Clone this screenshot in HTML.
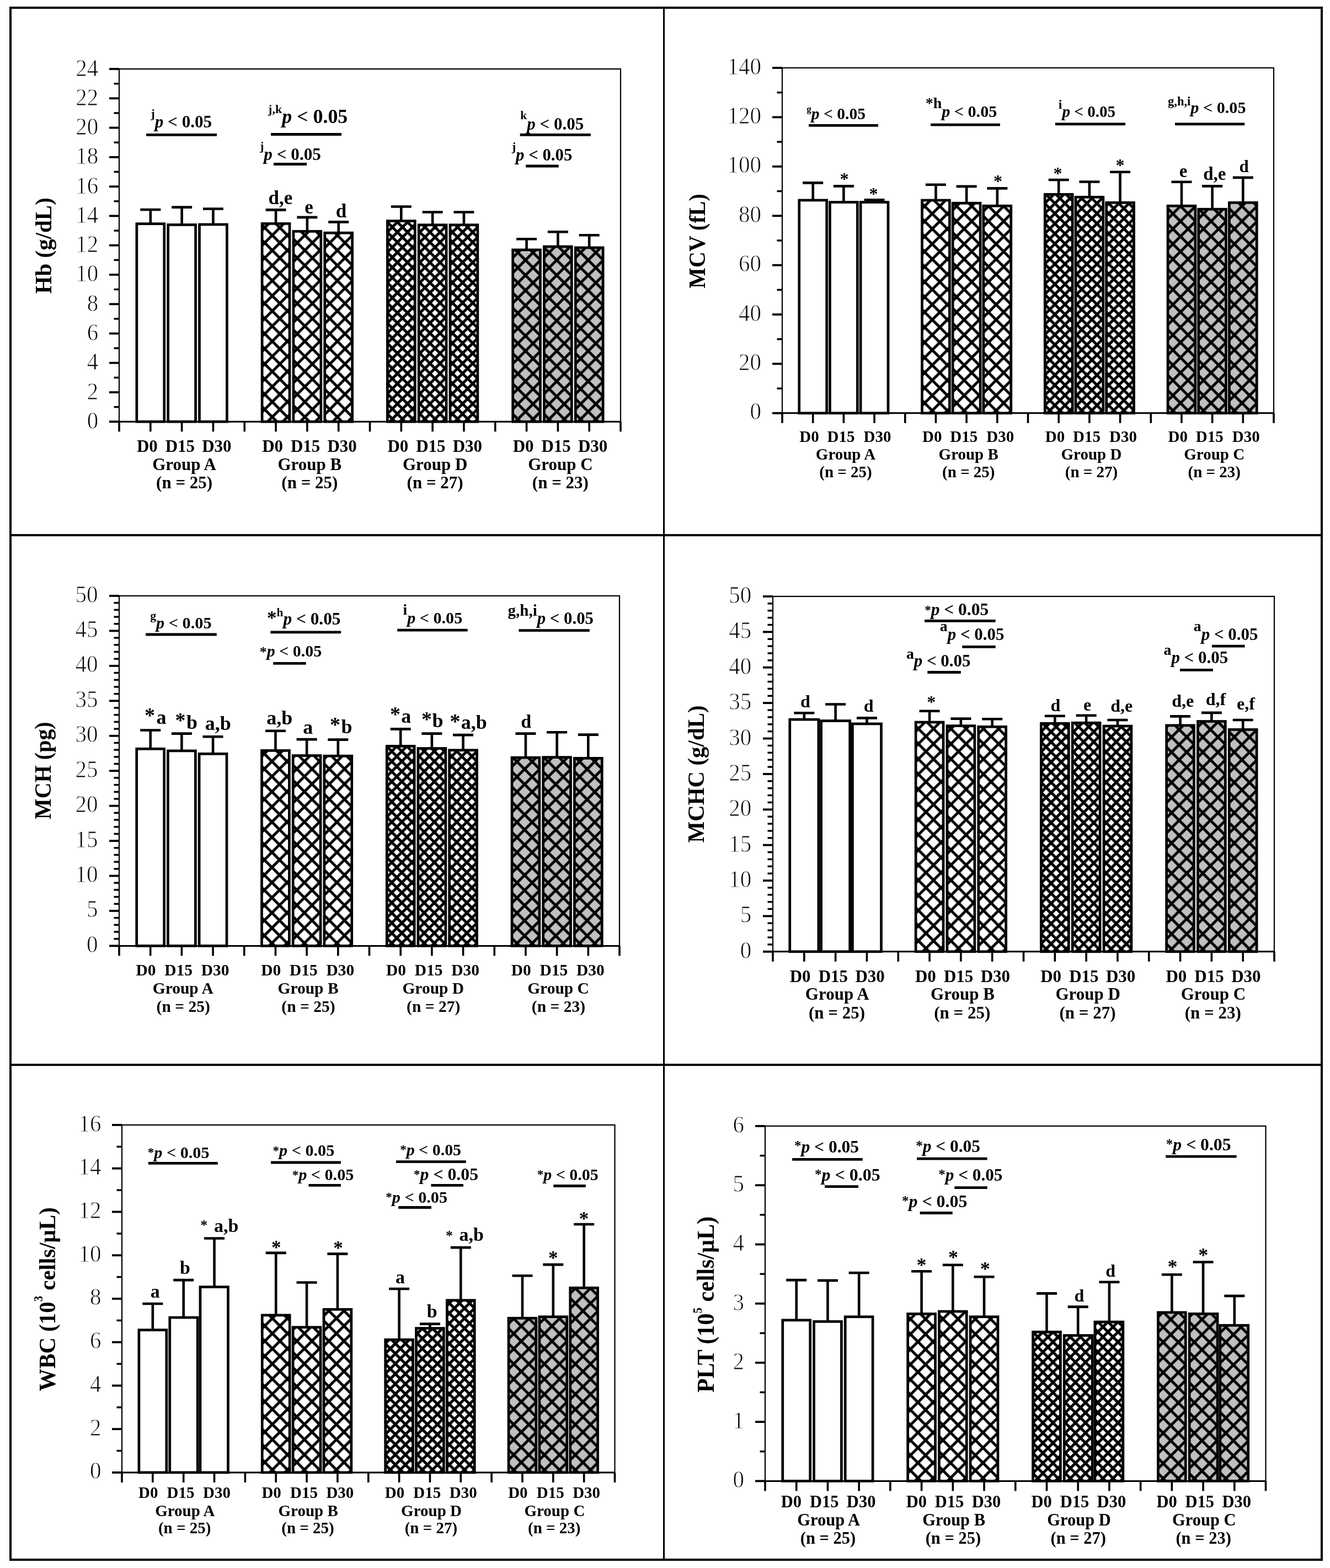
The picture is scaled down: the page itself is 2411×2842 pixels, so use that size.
<!DOCTYPE html><html><head><meta charset="utf-8"><title>Hematological parameters by group</title><style>html,body{margin:0;padding:0;background:#fff;}svg{display:block;}text{font-family:'Liberation Serif', 'Times New Roman', serif;fill:#000;}.tl{stroke:#fff;stroke-width:0.9px;}</style></head><body>
<svg width="2411" height="2842" viewBox="0 0 2411 2842">
<defs><pattern id="p0" patternUnits="userSpaceOnUse" x="493.56" y="755.8" width="27.45" height="27.45"><rect width="27.45" height="27.45" fill="#fff"/><path d="M-27.45,-27.45L54.9,54.9M0,-27.45L54.9,27.45M-27.45,0L27.45,54.9M-27.45,27.45L27.45,-27.45M-27.45,54.9L54.9,-27.45M0,54.9L54.9,0" stroke="#000" stroke-width="5.0"/></pattern><pattern id="p1" patternUnits="userSpaceOnUse" x="552.58" y="755.8" width="27.45" height="27.45"><rect width="27.45" height="27.45" fill="#fff"/><path d="M-27.45,-27.45L54.9,54.9M0,-27.45L54.9,27.45M-27.45,0L27.45,54.9M-27.45,27.45L27.45,-27.45M-27.45,54.9L54.9,-27.45M0,54.9L54.9,0" stroke="#000" stroke-width="5.0"/></pattern><pattern id="p2" patternUnits="userSpaceOnUse" x="611.59" y="755.8" width="27.45" height="27.45"><rect width="27.45" height="27.45" fill="#fff"/><path d="M-27.45,-27.45L54.9,54.9M0,-27.45L54.9,27.45M-27.45,0L27.45,54.9M-27.45,27.45L27.45,-27.45M-27.45,54.9L54.9,-27.45M0,54.9L54.9,0" stroke="#000" stroke-width="5.0"/></pattern><pattern id="p3" patternUnits="userSpaceOnUse" x="720.41" y="750.2" width="18.3" height="18.3"><rect width="18.3" height="18.3" fill="#fff"/><path d="M-18.3,-18.3L36.6,36.6M0,-18.3L36.6,18.3M-18.3,0L18.3,36.6M-18.3,18.3L18.3,-18.3M-18.3,36.6L36.6,-18.3M0,36.6L36.6,0" stroke="#000" stroke-width="5.0"/></pattern><pattern id="p4" patternUnits="userSpaceOnUse" x="779.42" y="750.2" width="18.3" height="18.3"><rect width="18.3" height="18.3" fill="#fff"/><path d="M-18.3,-18.3L36.6,36.6M0,-18.3L36.6,18.3M-18.3,0L18.3,36.6M-18.3,18.3L18.3,-18.3M-18.3,36.6L36.6,-18.3M0,36.6L36.6,0" stroke="#000" stroke-width="5.0"/></pattern><pattern id="p5" patternUnits="userSpaceOnUse" x="838.54" y="750.2" width="18.3" height="18.3"><rect width="18.3" height="18.3" fill="#fff"/><path d="M-18.3,-18.3L36.6,36.6M0,-18.3L36.6,18.3M-18.3,0L18.3,36.6M-18.3,18.3L18.3,-18.3M-18.3,36.6L36.6,-18.3M0,36.6L36.6,0" stroke="#000" stroke-width="5.0"/></pattern><pattern id="p6" patternUnits="userSpaceOnUse" x="952.56" y="746" width="27.45" height="27.45"><rect width="27.45" height="27.45" fill="#c0c0c0"/><path d="M-27.45,-27.45L54.9,54.9M0,-27.45L54.9,27.45M-27.45,0L27.45,54.9M-27.45,27.45L27.45,-27.45M-27.45,54.9L54.9,-27.45M0,54.9L54.9,0" stroke="#000" stroke-width="5.0"/></pattern><pattern id="p7" patternUnits="userSpaceOnUse" x="1009.17" y="746" width="27.45" height="27.45"><rect width="27.45" height="27.45" fill="#c0c0c0"/><path d="M-27.45,-27.45L54.9,54.9M0,-27.45L54.9,27.45M-27.45,0L27.45,54.9M-27.45,27.45L27.45,-27.45M-27.45,54.9L54.9,-27.45M0,54.9L54.9,0" stroke="#000" stroke-width="5.0"/></pattern><pattern id="p8" patternUnits="userSpaceOnUse" x="1066.29" y="746" width="27.45" height="27.45"><rect width="27.45" height="27.45" fill="#c0c0c0"/><path d="M-27.45,-27.45L54.9,54.9M0,-27.45L54.9,27.45M-27.45,0L27.45,54.9M-27.45,27.45L27.45,-27.45M-27.45,54.9L54.9,-27.45M0,54.9L54.9,0" stroke="#000" stroke-width="5.0"/></pattern><pattern id="p9" patternUnits="userSpaceOnUse" x="1689.94" y="744.2" width="27.45" height="27.45"><rect width="27.45" height="27.45" fill="#fff"/><path d="M-27.45,-27.45L54.9,54.9M0,-27.45L54.9,27.45M-27.45,0L27.45,54.9M-27.45,27.45L27.45,-27.45M-27.45,54.9L54.9,-27.45M0,54.9L54.9,0" stroke="#000" stroke-width="5.0"/></pattern><pattern id="p10" patternUnits="userSpaceOnUse" x="1747.83" y="744.2" width="27.45" height="27.45"><rect width="27.45" height="27.45" fill="#fff"/><path d="M-27.45,-27.45L54.9,54.9M0,-27.45L54.9,27.45M-27.45,0L27.45,54.9M-27.45,27.45L27.45,-27.45M-27.45,54.9L54.9,-27.45M0,54.9L54.9,0" stroke="#000" stroke-width="5.0"/></pattern><pattern id="p11" patternUnits="userSpaceOnUse" x="1805.71" y="744.2" width="27.45" height="27.45"><rect width="27.45" height="27.45" fill="#fff"/><path d="M-27.45,-27.45L54.9,54.9M0,-27.45L54.9,27.45M-27.45,0L27.45,54.9M-27.45,27.45L27.45,-27.45M-27.45,54.9L54.9,-27.45M0,54.9L54.9,0" stroke="#000" stroke-width="5.0"/></pattern><pattern id="p12" patternUnits="userSpaceOnUse" x="1912.29" y="734.7" width="18.3" height="18.3"><rect width="18.3" height="18.3" fill="#fff"/><path d="M-18.3,-18.3L36.6,36.6M0,-18.3L36.6,18.3M-18.3,0L18.3,36.6M-18.3,18.3L18.3,-18.3M-18.3,36.6L36.6,-18.3M0,36.6L36.6,0" stroke="#000" stroke-width="5.0"/></pattern><pattern id="p13" patternUnits="userSpaceOnUse" x="1970.17" y="734.7" width="18.3" height="18.3"><rect width="18.3" height="18.3" fill="#fff"/><path d="M-18.3,-18.3L36.6,36.6M0,-18.3L36.6,18.3M-18.3,0L18.3,36.6M-18.3,18.3L18.3,-18.3M-18.3,36.6L36.6,-18.3M0,36.6L36.6,0" stroke="#000" stroke-width="5.0"/></pattern><pattern id="p14" patternUnits="userSpaceOnUse" x="2028.16" y="734.7" width="18.3" height="18.3"><rect width="18.3" height="18.3" fill="#fff"/><path d="M-18.3,-18.3L36.6,36.6M0,-18.3L36.6,18.3M-18.3,0L18.3,36.6M-18.3,18.3L18.3,-18.3M-18.3,36.6L36.6,-18.3M0,36.6L36.6,0" stroke="#000" stroke-width="5.0"/></pattern><pattern id="p15" patternUnits="userSpaceOnUse" x="2139.94" y="730.5" width="27.45" height="27.45"><rect width="27.45" height="27.45" fill="#c0c0c0"/><path d="M-27.45,-27.45L54.9,54.9M0,-27.45L54.9,27.45M-27.45,0L27.45,54.9M-27.45,27.45L27.45,-27.45M-27.45,54.9L54.9,-27.45M0,54.9L54.9,0" stroke="#000" stroke-width="5.0"/></pattern><pattern id="p16" patternUnits="userSpaceOnUse" x="2195.43" y="730.5" width="27.45" height="27.45"><rect width="27.45" height="27.45" fill="#c0c0c0"/><path d="M-27.45,-27.45L54.9,54.9M0,-27.45L54.9,27.45M-27.45,0L27.45,54.9M-27.45,27.45L27.45,-27.45M-27.45,54.9L54.9,-27.45M0,54.9L54.9,0" stroke="#000" stroke-width="5.0"/></pattern><pattern id="p17" patternUnits="userSpaceOnUse" x="2251.41" y="730.5" width="27.45" height="27.45"><rect width="27.45" height="27.45" fill="#c0c0c0"/><path d="M-27.45,-27.45L54.9,54.9M0,-27.45L54.9,27.45M-27.45,0L27.45,54.9M-27.45,27.45L27.45,-27.45M-27.45,54.9L54.9,-27.45M0,54.9L54.9,0" stroke="#000" stroke-width="5.0"/></pattern><pattern id="p18" patternUnits="userSpaceOnUse" x="492.94" y="1709.4" width="27.45" height="27.45"><rect width="27.45" height="27.45" fill="#fff"/><path d="M-27.45,-27.45L54.9,54.9M0,-27.45L54.9,27.45M-27.45,0L27.45,54.9M-27.45,27.45L27.45,-27.45M-27.45,54.9L54.9,-27.45M0,54.9L54.9,0" stroke="#000" stroke-width="5.0"/></pattern><pattern id="p19" patternUnits="userSpaceOnUse" x="551.83" y="1709.4" width="27.45" height="27.45"><rect width="27.45" height="27.45" fill="#fff"/><path d="M-27.45,-27.45L54.9,54.9M0,-27.45L54.9,27.45M-27.45,0L27.45,54.9M-27.45,27.45L27.45,-27.45M-27.45,54.9L54.9,-27.45M0,54.9L54.9,0" stroke="#000" stroke-width="5.0"/></pattern><pattern id="p20" patternUnits="userSpaceOnUse" x="610.71" y="1709.4" width="27.45" height="27.45"><rect width="27.45" height="27.45" fill="#fff"/><path d="M-27.45,-27.45L54.9,54.9M0,-27.45L54.9,27.45M-27.45,0L27.45,54.9M-27.45,27.45L27.45,-27.45M-27.45,54.9L54.9,-27.45M0,54.9L54.9,0" stroke="#000" stroke-width="5.0"/></pattern><pattern id="p21" patternUnits="userSpaceOnUse" x="719.29" y="1700.3" width="18.3" height="18.3"><rect width="18.3" height="18.3" fill="#fff"/><path d="M-18.3,-18.3L36.6,36.6M0,-18.3L36.6,18.3M-18.3,0L18.3,36.6M-18.3,18.3L18.3,-18.3M-18.3,36.6L36.6,-18.3M0,36.6L36.6,0" stroke="#000" stroke-width="5.0"/></pattern><pattern id="p22" patternUnits="userSpaceOnUse" x="778.17" y="1700.3" width="18.3" height="18.3"><rect width="18.3" height="18.3" fill="#fff"/><path d="M-18.3,-18.3L36.6,36.6M0,-18.3L36.6,18.3M-18.3,0L18.3,36.6M-18.3,18.3L18.3,-18.3M-18.3,36.6L36.6,-18.3M0,36.6L36.6,0" stroke="#000" stroke-width="5.0"/></pattern><pattern id="p23" patternUnits="userSpaceOnUse" x="837.16" y="1700.3" width="18.3" height="18.3"><rect width="18.3" height="18.3" fill="#fff"/><path d="M-18.3,-18.3L36.6,36.6M0,-18.3L36.6,18.3M-18.3,0L18.3,36.6M-18.3,18.3L18.3,-18.3M-18.3,36.6L36.6,-18.3M0,36.6L36.6,0" stroke="#000" stroke-width="5.0"/></pattern><pattern id="p24" patternUnits="userSpaceOnUse" x="950.94" y="1696.1" width="27.45" height="27.45"><rect width="27.45" height="27.45" fill="#c0c0c0"/><path d="M-27.45,-27.45L54.9,54.9M0,-27.45L54.9,27.45M-27.45,0L27.45,54.9M-27.45,27.45L27.45,-27.45M-27.45,54.9L54.9,-27.45M0,54.9L54.9,0" stroke="#000" stroke-width="5.0"/></pattern><pattern id="p25" patternUnits="userSpaceOnUse" x="1007.42" y="1696.1" width="27.45" height="27.45"><rect width="27.45" height="27.45" fill="#c0c0c0"/><path d="M-27.45,-27.45L54.9,54.9M0,-27.45L54.9,27.45M-27.45,0L27.45,54.9M-27.45,27.45L27.45,-27.45M-27.45,54.9L54.9,-27.45M0,54.9L54.9,0" stroke="#000" stroke-width="5.0"/></pattern><pattern id="p26" patternUnits="userSpaceOnUse" x="1064.41" y="1696.1" width="27.45" height="27.45"><rect width="27.45" height="27.45" fill="#c0c0c0"/><path d="M-27.45,-27.45L54.9,54.9M0,-27.45L54.9,27.45M-27.45,0L27.45,54.9M-27.45,27.45L27.45,-27.45M-27.45,54.9L54.9,-27.45M0,54.9L54.9,0" stroke="#000" stroke-width="5.0"/></pattern><pattern id="p27" patternUnits="userSpaceOnUse" x="1678.56" y="1718.9" width="27.45" height="27.45"><rect width="27.45" height="27.45" fill="#fff"/><path d="M-27.45,-27.45L54.9,54.9M0,-27.45L54.9,27.45M-27.45,0L27.45,54.9M-27.45,27.45L27.45,-27.45M-27.45,54.9L54.9,-27.45M0,54.9L54.9,0" stroke="#000" stroke-width="5.0"/></pattern><pattern id="p28" patternUnits="userSpaceOnUse" x="1737.58" y="1718.9" width="27.45" height="27.45"><rect width="27.45" height="27.45" fill="#fff"/><path d="M-27.45,-27.45L54.9,54.9M0,-27.45L54.9,27.45M-27.45,0L27.45,54.9M-27.45,27.45L27.45,-27.45M-27.45,54.9L54.9,-27.45M0,54.9L54.9,0" stroke="#000" stroke-width="5.0"/></pattern><pattern id="p29" patternUnits="userSpaceOnUse" x="1796.59" y="1718.9" width="27.45" height="27.45"><rect width="27.45" height="27.45" fill="#fff"/><path d="M-27.45,-27.45L54.9,54.9M0,-27.45L54.9,27.45M-27.45,0L27.45,54.9M-27.45,27.45L27.45,-27.45M-27.45,54.9L54.9,-27.45M0,54.9L54.9,0" stroke="#000" stroke-width="5.0"/></pattern><pattern id="p30" patternUnits="userSpaceOnUse" x="1905.41" y="1710.7" width="18.3" height="18.3"><rect width="18.3" height="18.3" fill="#fff"/><path d="M-18.3,-18.3L36.6,36.6M0,-18.3L36.6,18.3M-18.3,0L18.3,36.6M-18.3,18.3L18.3,-18.3M-18.3,36.6L36.6,-18.3M0,36.6L36.6,0" stroke="#000" stroke-width="5.0"/></pattern><pattern id="p31" patternUnits="userSpaceOnUse" x="1964.42" y="1710.7" width="18.3" height="18.3"><rect width="18.3" height="18.3" fill="#fff"/><path d="M-18.3,-18.3L36.6,36.6M0,-18.3L36.6,18.3M-18.3,0L18.3,36.6M-18.3,18.3L18.3,-18.3M-18.3,36.6L36.6,-18.3M0,36.6L36.6,0" stroke="#000" stroke-width="5.0"/></pattern><pattern id="p32" patternUnits="userSpaceOnUse" x="2023.54" y="1710.7" width="18.3" height="18.3"><rect width="18.3" height="18.3" fill="#fff"/><path d="M-18.3,-18.3L36.6,36.6M0,-18.3L36.6,18.3M-18.3,0L18.3,36.6M-18.3,18.3L18.3,-18.3M-18.3,36.6L36.6,-18.3M0,36.6L36.6,0" stroke="#000" stroke-width="5.0"/></pattern><pattern id="p33" patternUnits="userSpaceOnUse" x="2137.56" y="1706.5" width="27.45" height="27.45"><rect width="27.45" height="27.45" fill="#c0c0c0"/><path d="M-27.45,-27.45L54.9,54.9M0,-27.45L54.9,27.45M-27.45,0L27.45,54.9M-27.45,27.45L27.45,-27.45M-27.45,54.9L54.9,-27.45M0,54.9L54.9,0" stroke="#000" stroke-width="5.0"/></pattern><pattern id="p34" patternUnits="userSpaceOnUse" x="2194.18" y="1706.5" width="27.45" height="27.45"><rect width="27.45" height="27.45" fill="#c0c0c0"/><path d="M-27.45,-27.45L54.9,54.9M0,-27.45L54.9,27.45M-27.45,0L27.45,54.9M-27.45,27.45L27.45,-27.45M-27.45,54.9L54.9,-27.45M0,54.9L54.9,0" stroke="#000" stroke-width="5.0"/></pattern><pattern id="p35" patternUnits="userSpaceOnUse" x="2251.29" y="1706.5" width="27.45" height="27.45"><rect width="27.45" height="27.45" fill="#c0c0c0"/><path d="M-27.45,-27.45L54.9,54.9M0,-27.45L54.9,27.45M-27.45,0L27.45,54.9M-27.45,27.45L27.45,-27.45M-27.45,54.9L54.9,-27.45M0,54.9L54.9,0" stroke="#000" stroke-width="5.0"/></pattern><pattern id="p36" patternUnits="userSpaceOnUse" x="493.72" y="2664" width="27.45" height="27.45"><rect width="27.45" height="27.45" fill="#fff"/><path d="M-27.45,-27.45L54.9,54.9M0,-27.45L54.9,27.45M-27.45,0L27.45,54.9M-27.45,27.45L27.45,-27.45M-27.45,54.9L54.9,-27.45M0,54.9L54.9,0" stroke="#000" stroke-width="5.0"/></pattern><pattern id="p37" patternUnits="userSpaceOnUse" x="551.76" y="2664" width="27.45" height="27.45"><rect width="27.45" height="27.45" fill="#fff"/><path d="M-27.45,-27.45L54.9,54.9M0,-27.45L54.9,27.45M-27.45,0L27.45,54.9M-27.45,27.45L27.45,-27.45M-27.45,54.9L54.9,-27.45M0,54.9L54.9,0" stroke="#000" stroke-width="5.0"/></pattern><pattern id="p38" patternUnits="userSpaceOnUse" x="609.81" y="2664" width="27.45" height="27.45"><rect width="27.45" height="27.45" fill="#fff"/><path d="M-27.45,-27.45L54.9,54.9M0,-27.45L54.9,27.45M-27.45,0L27.45,54.9M-27.45,27.45L27.45,-27.45M-27.45,54.9L54.9,-27.45M0,54.9L54.9,0" stroke="#000" stroke-width="5.0"/></pattern><pattern id="p39" patternUnits="userSpaceOnUse" x="716.69" y="2654.8" width="18.3" height="18.3"><rect width="18.3" height="18.3" fill="#fff"/><path d="M-18.3,-18.3L36.6,36.6M0,-18.3L36.6,18.3M-18.3,0L18.3,36.6M-18.3,18.3L18.3,-18.3M-18.3,36.6L36.6,-18.3M0,36.6L36.6,0" stroke="#000" stroke-width="5.0"/></pattern><pattern id="p40" patternUnits="userSpaceOnUse" x="774.74" y="2654.8" width="18.3" height="18.3"><rect width="18.3" height="18.3" fill="#fff"/><path d="M-18.3,-18.3L36.6,36.6M0,-18.3L36.6,18.3M-18.3,0L18.3,36.6M-18.3,18.3L18.3,-18.3M-18.3,36.6L36.6,-18.3M0,36.6L36.6,0" stroke="#000" stroke-width="5.0"/></pattern><pattern id="p41" patternUnits="userSpaceOnUse" x="832.88" y="2654.8" width="18.3" height="18.3"><rect width="18.3" height="18.3" fill="#fff"/><path d="M-18.3,-18.3L36.6,36.6M0,-18.3L36.6,18.3M-18.3,0L18.3,36.6M-18.3,18.3L18.3,-18.3M-18.3,36.6L36.6,-18.3M0,36.6L36.6,0" stroke="#000" stroke-width="5.0"/></pattern><pattern id="p42" patternUnits="userSpaceOnUse" x="944.97" y="2650.6" width="27.45" height="27.45"><rect width="27.45" height="27.45" fill="#c0c0c0"/><path d="M-27.45,-27.45L54.9,54.9M0,-27.45L54.9,27.45M-27.45,0L27.45,54.9M-27.45,27.45L27.45,-27.45M-27.45,54.9L54.9,-27.45M0,54.9L54.9,0" stroke="#000" stroke-width="5.0"/></pattern><pattern id="p43" patternUnits="userSpaceOnUse" x="1000.61" y="2650.6" width="27.45" height="27.45"><rect width="27.45" height="27.45" fill="#c0c0c0"/><path d="M-27.45,-27.45L54.9,54.9M0,-27.45L54.9,27.45M-27.45,0L27.45,54.9M-27.45,27.45L27.45,-27.45M-27.45,54.9L54.9,-27.45M0,54.9L54.9,0" stroke="#000" stroke-width="5.0"/></pattern><pattern id="p44" patternUnits="userSpaceOnUse" x="1056.76" y="2650.6" width="27.45" height="27.45"><rect width="27.45" height="27.45" fill="#c0c0c0"/><path d="M-27.45,-27.45L54.9,54.9M0,-27.45L54.9,27.45M-27.45,0L27.45,54.9M-27.45,27.45L27.45,-27.45M-27.45,54.9L54.9,-27.45M0,54.9L54.9,0" stroke="#000" stroke-width="5.0"/></pattern><pattern id="p45" patternUnits="userSpaceOnUse" x="1664.09" y="2678.9" width="27.45" height="27.45"><rect width="27.45" height="27.45" fill="#fff"/><path d="M-27.45,-27.45L54.9,54.9M0,-27.45L54.9,27.45M-27.45,0L27.45,54.9M-27.45,27.45L27.45,-27.45M-27.45,54.9L54.9,-27.45M0,54.9L54.9,0" stroke="#000" stroke-width="5.0"/></pattern><pattern id="p46" patternUnits="userSpaceOnUse" x="1723.01" y="2678.9" width="27.45" height="27.45"><rect width="27.45" height="27.45" fill="#fff"/><path d="M-27.45,-27.45L54.9,54.9M0,-27.45L54.9,27.45M-27.45,0L27.45,54.9M-27.45,27.45L27.45,-27.45M-27.45,54.9L54.9,-27.45M0,54.9L54.9,0" stroke="#000" stroke-width="5.0"/></pattern><pattern id="p47" patternUnits="userSpaceOnUse" x="1781.93" y="2678.9" width="27.45" height="27.45"><rect width="27.45" height="27.45" fill="#fff"/><path d="M-27.45,-27.45L54.9,54.9M0,-27.45L54.9,27.45M-27.45,0L27.45,54.9M-27.45,27.45L27.45,-27.45M-27.45,54.9L54.9,-27.45M0,54.9L54.9,0" stroke="#000" stroke-width="5.0"/></pattern><pattern id="p48" patternUnits="userSpaceOnUse" x="1890.57" y="2670.3" width="18.3" height="18.3"><rect width="18.3" height="18.3" fill="#fff"/><path d="M-18.3,-18.3L36.6,36.6M0,-18.3L36.6,18.3M-18.3,0L18.3,36.6M-18.3,18.3L18.3,-18.3M-18.3,36.6L36.6,-18.3M0,36.6L36.6,0" stroke="#000" stroke-width="5.0"/></pattern><pattern id="p49" patternUnits="userSpaceOnUse" x="1949.49" y="2670.3" width="18.3" height="18.3"><rect width="18.3" height="18.3" fill="#fff"/><path d="M-18.3,-18.3L36.6,36.6M0,-18.3L36.6,18.3M-18.3,0L18.3,36.6M-18.3,18.3L18.3,-18.3M-18.3,36.6L36.6,-18.3M0,36.6L36.6,0" stroke="#000" stroke-width="5.0"/></pattern><pattern id="p50" patternUnits="userSpaceOnUse" x="2008.51" y="2670.3" width="18.3" height="18.3"><rect width="18.3" height="18.3" fill="#fff"/><path d="M-18.3,-18.3L36.6,36.6M0,-18.3L36.6,18.3M-18.3,0L18.3,36.6M-18.3,18.3L18.3,-18.3M-18.3,36.6L36.6,-18.3M0,36.6L36.6,0" stroke="#000" stroke-width="5.0"/></pattern><pattern id="p51" patternUnits="userSpaceOnUse" x="2122.34" y="2666.1" width="27.45" height="27.45"><rect width="27.45" height="27.45" fill="#c0c0c0"/><path d="M-27.45,-27.45L54.9,54.9M0,-27.45L54.9,27.45M-27.45,0L27.45,54.9M-27.45,27.45L27.45,-27.45M-27.45,54.9L54.9,-27.45M0,54.9L54.9,0" stroke="#000" stroke-width="5.0"/></pattern><pattern id="p52" patternUnits="userSpaceOnUse" x="2178.86" y="2666.1" width="27.45" height="27.45"><rect width="27.45" height="27.45" fill="#c0c0c0"/><path d="M-27.45,-27.45L54.9,54.9M0,-27.45L54.9,27.45M-27.45,0L27.45,54.9M-27.45,27.45L27.45,-27.45M-27.45,54.9L54.9,-27.45M0,54.9L54.9,0" stroke="#000" stroke-width="5.0"/></pattern><pattern id="p53" patternUnits="userSpaceOnUse" x="2235.88" y="2666.1" width="27.45" height="27.45"><rect width="27.45" height="27.45" fill="#c0c0c0"/><path d="M-27.45,-27.45L54.9,54.9M0,-27.45L54.9,27.45M-27.45,0L27.45,54.9M-27.45,27.45L27.45,-27.45M-27.45,54.9L54.9,-27.45M0,54.9L54.9,0" stroke="#000" stroke-width="5.0"/></pattern></defs>
<rect width="2411" height="2842" fill="#fff"/>
<rect x="19" y="14" width="2377" height="2813" fill="none" stroke="#000" stroke-width="4"/>
<line x1="1203.5" y1="14" x2="1203.5" y2="2827" stroke="#000" stroke-width="3"/>
<line x1="19" y1="970" x2="2396" y2="970" stroke="#000" stroke-width="4"/>
<line x1="19" y1="1930" x2="2396" y2="1930" stroke="#000" stroke-width="4"/>
<rect x="216" y="125" width="909" height="639.3" fill="none" stroke="#000" stroke-width="2.2"/>
<line x1="198" y1="764.3" x2="216" y2="764.3" stroke="#000" stroke-width="3.8"/>
<text transform="translate(178.2,776.8) scale(1,1.07)" font-size="41" text-anchor="end" class="tl">0</text>
<line x1="206.5" y1="737.66" x2="216" y2="737.66" stroke="#000" stroke-width="3.4"/>
<line x1="198" y1="711.02" x2="216" y2="711.02" stroke="#000" stroke-width="3.8"/>
<text transform="translate(178.2,723.52) scale(1,1.07)" font-size="41" text-anchor="end" class="tl">2</text>
<line x1="206.5" y1="684.39" x2="216" y2="684.39" stroke="#000" stroke-width="3.4"/>
<line x1="198" y1="657.75" x2="216" y2="657.75" stroke="#000" stroke-width="3.8"/>
<text transform="translate(178.2,670.25) scale(1,1.07)" font-size="41" text-anchor="end" class="tl">4</text>
<line x1="206.5" y1="631.11" x2="216" y2="631.11" stroke="#000" stroke-width="3.4"/>
<line x1="198" y1="604.47" x2="216" y2="604.47" stroke="#000" stroke-width="3.8"/>
<text transform="translate(178.2,616.97) scale(1,1.07)" font-size="41" text-anchor="end" class="tl">6</text>
<line x1="206.5" y1="577.84" x2="216" y2="577.84" stroke="#000" stroke-width="3.4"/>
<line x1="198" y1="551.2" x2="216" y2="551.2" stroke="#000" stroke-width="3.8"/>
<text transform="translate(178.2,563.7) scale(1,1.07)" font-size="41" text-anchor="end" class="tl">8</text>
<line x1="206.5" y1="524.56" x2="216" y2="524.56" stroke="#000" stroke-width="3.4"/>
<line x1="198" y1="497.92" x2="216" y2="497.92" stroke="#000" stroke-width="3.8"/>
<text transform="translate(178.2,510.42) scale(1,1.07)" font-size="41" text-anchor="end" class="tl">10</text>
<line x1="206.5" y1="471.29" x2="216" y2="471.29" stroke="#000" stroke-width="3.4"/>
<line x1="198" y1="444.65" x2="216" y2="444.65" stroke="#000" stroke-width="3.8"/>
<text transform="translate(178.2,457.15) scale(1,1.07)" font-size="41" text-anchor="end" class="tl">12</text>
<line x1="206.5" y1="418.01" x2="216" y2="418.01" stroke="#000" stroke-width="3.4"/>
<line x1="198" y1="391.38" x2="216" y2="391.38" stroke="#000" stroke-width="3.8"/>
<text transform="translate(178.2,403.88) scale(1,1.07)" font-size="41" text-anchor="end" class="tl">14</text>
<line x1="206.5" y1="364.74" x2="216" y2="364.74" stroke="#000" stroke-width="3.4"/>
<line x1="198" y1="338.1" x2="216" y2="338.1" stroke="#000" stroke-width="3.8"/>
<text transform="translate(178.2,350.6) scale(1,1.07)" font-size="41" text-anchor="end" class="tl">16</text>
<line x1="206.5" y1="311.46" x2="216" y2="311.46" stroke="#000" stroke-width="3.4"/>
<line x1="198" y1="284.82" x2="216" y2="284.82" stroke="#000" stroke-width="3.8"/>
<text transform="translate(178.2,297.32) scale(1,1.07)" font-size="41" text-anchor="end" class="tl">18</text>
<line x1="206.5" y1="258.19" x2="216" y2="258.19" stroke="#000" stroke-width="3.4"/>
<line x1="198" y1="231.55" x2="216" y2="231.55" stroke="#000" stroke-width="3.8"/>
<text transform="translate(178.2,244.05) scale(1,1.07)" font-size="41" text-anchor="end" class="tl">20</text>
<line x1="206.5" y1="204.91" x2="216" y2="204.91" stroke="#000" stroke-width="3.4"/>
<line x1="198" y1="178.27" x2="216" y2="178.27" stroke="#000" stroke-width="3.8"/>
<text transform="translate(178.2,190.77) scale(1,1.07)" font-size="41" text-anchor="end" class="tl">22</text>
<line x1="206.5" y1="151.64" x2="216" y2="151.64" stroke="#000" stroke-width="3.4"/>
<line x1="198" y1="125" x2="216" y2="125" stroke="#000" stroke-width="3.8"/>
<text transform="translate(178.2,137.5) scale(1,1.07)" font-size="41" text-anchor="end" class="tl">24</text>
<line x1="198" y1="764.3" x2="1125" y2="764.3" stroke="#000" stroke-width="3"/>
<line x1="216" y1="764.3" x2="216" y2="782.3" stroke="#000" stroke-width="3.6"/>
<line x1="272.81" y1="764.3" x2="272.81" y2="782.3" stroke="#000" stroke-width="3.6"/>
<line x1="329.62" y1="764.3" x2="329.62" y2="782.3" stroke="#000" stroke-width="3.6"/>
<line x1="386.44" y1="764.3" x2="386.44" y2="782.3" stroke="#000" stroke-width="3.6"/>
<line x1="443.25" y1="764.3" x2="443.25" y2="782.3" stroke="#000" stroke-width="3.6"/>
<line x1="500.06" y1="764.3" x2="500.06" y2="782.3" stroke="#000" stroke-width="3.6"/>
<line x1="556.88" y1="764.3" x2="556.88" y2="782.3" stroke="#000" stroke-width="3.6"/>
<line x1="613.69" y1="764.3" x2="613.69" y2="782.3" stroke="#000" stroke-width="3.6"/>
<line x1="670.5" y1="764.3" x2="670.5" y2="782.3" stroke="#000" stroke-width="3.6"/>
<line x1="727.31" y1="764.3" x2="727.31" y2="782.3" stroke="#000" stroke-width="3.6"/>
<line x1="784.12" y1="764.3" x2="784.12" y2="782.3" stroke="#000" stroke-width="3.6"/>
<line x1="840.94" y1="764.3" x2="840.94" y2="782.3" stroke="#000" stroke-width="3.6"/>
<line x1="897.75" y1="764.3" x2="897.75" y2="782.3" stroke="#000" stroke-width="3.6"/>
<line x1="954.56" y1="764.3" x2="954.56" y2="782.3" stroke="#000" stroke-width="3.6"/>
<line x1="1011.38" y1="764.3" x2="1011.38" y2="782.3" stroke="#000" stroke-width="3.6"/>
<line x1="1068.19" y1="764.3" x2="1068.19" y2="782.3" stroke="#000" stroke-width="3.6"/>
<line x1="1125" y1="764.3" x2="1125" y2="782.3" stroke="#000" stroke-width="3.6"/>
<line x1="272.81" y1="405.6" x2="272.81" y2="380" stroke="#000" stroke-width="4.6"/>
<line x1="254.31" y1="380" x2="291.31" y2="380" stroke="#000" stroke-width="4.6"/>
<rect x="247.86" y="405.6" width="49.9" height="358.7" fill="#fff" stroke="#000" stroke-width="4.7"/>
<line x1="329.62" y1="407.4" x2="329.62" y2="375.6" stroke="#000" stroke-width="4.6"/>
<line x1="311.12" y1="375.6" x2="348.12" y2="375.6" stroke="#000" stroke-width="4.6"/>
<rect x="304.68" y="407.4" width="49.9" height="356.9" fill="#fff" stroke="#000" stroke-width="4.7"/>
<line x1="386.44" y1="406.9" x2="386.44" y2="378.5" stroke="#000" stroke-width="4.6"/>
<line x1="367.94" y1="378.5" x2="404.94" y2="378.5" stroke="#000" stroke-width="4.6"/>
<rect x="361.49" y="406.9" width="49.9" height="357.4" fill="#fff" stroke="#000" stroke-width="4.7"/>
<line x1="500.06" y1="405.3" x2="500.06" y2="380.4" stroke="#000" stroke-width="4.6"/>
<line x1="481.56" y1="380.4" x2="518.56" y2="380.4" stroke="#000" stroke-width="4.6"/>
<rect x="475.11" y="405.3" width="49.9" height="359" fill="url(#p0)" stroke="#000" stroke-width="4.7"/>
<line x1="556.88" y1="419.3" x2="556.88" y2="393.9" stroke="#000" stroke-width="4.6"/>
<line x1="538.38" y1="393.9" x2="575.38" y2="393.9" stroke="#000" stroke-width="4.6"/>
<rect x="531.93" y="419.3" width="49.9" height="345" fill="url(#p1)" stroke="#000" stroke-width="4.7"/>
<line x1="613.69" y1="422.1" x2="613.69" y2="402.4" stroke="#000" stroke-width="4.6"/>
<line x1="595.19" y1="402.4" x2="632.19" y2="402.4" stroke="#000" stroke-width="4.6"/>
<rect x="588.74" y="422.1" width="49.9" height="342.2" fill="url(#p2)" stroke="#000" stroke-width="4.7"/>
<line x1="727.31" y1="400.5" x2="727.31" y2="374.5" stroke="#000" stroke-width="4.6"/>
<line x1="708.81" y1="374.5" x2="745.81" y2="374.5" stroke="#000" stroke-width="4.6"/>
<rect x="702.36" y="400.5" width="49.9" height="363.8" fill="url(#p3)" stroke="#000" stroke-width="4.7"/>
<line x1="784.12" y1="407.7" x2="784.12" y2="384.5" stroke="#000" stroke-width="4.6"/>
<line x1="765.62" y1="384.5" x2="802.62" y2="384.5" stroke="#000" stroke-width="4.6"/>
<rect x="759.18" y="407.7" width="49.9" height="356.6" fill="url(#p4)" stroke="#000" stroke-width="4.7"/>
<line x1="840.94" y1="407.7" x2="840.94" y2="384.5" stroke="#000" stroke-width="4.6"/>
<line x1="822.44" y1="384.5" x2="859.44" y2="384.5" stroke="#000" stroke-width="4.6"/>
<rect x="815.99" y="407.7" width="49.9" height="356.6" fill="url(#p5)" stroke="#000" stroke-width="4.7"/>
<line x1="954.56" y1="452.9" x2="954.56" y2="433.3" stroke="#000" stroke-width="4.6"/>
<line x1="936.06" y1="433.3" x2="973.06" y2="433.3" stroke="#000" stroke-width="4.6"/>
<rect x="929.61" y="452.9" width="49.9" height="311.4" fill="url(#p6)" stroke="#000" stroke-width="4.7"/>
<line x1="1011.38" y1="447" x2="1011.38" y2="420.2" stroke="#000" stroke-width="4.6"/>
<line x1="992.88" y1="420.2" x2="1029.88" y2="420.2" stroke="#000" stroke-width="4.6"/>
<rect x="986.43" y="447" width="49.9" height="317.3" fill="url(#p7)" stroke="#000" stroke-width="4.7"/>
<line x1="1068.19" y1="448.9" x2="1068.19" y2="426.2" stroke="#000" stroke-width="4.6"/>
<line x1="1049.69" y1="426.2" x2="1086.69" y2="426.2" stroke="#000" stroke-width="4.6"/>
<rect x="1043.24" y="448.9" width="49.9" height="315.4" fill="url(#p8)" stroke="#000" stroke-width="4.7"/>
<text x="266.93" y="818.8" font-size="31" font-weight="bold" text-anchor="middle">D0</text>
<text x="326.43" y="818.8" font-size="31" font-weight="bold" text-anchor="middle">D15</text>
<text x="392.93" y="818.8" font-size="31" font-weight="bold" text-anchor="middle">D30</text>
<text x="334.12" y="851.7" font-size="31" font-weight="bold" text-anchor="middle">Group A</text>
<text x="334.12" y="884.5" font-size="31" font-weight="bold" text-anchor="middle">(n = 25)</text>
<text x="494.18" y="818.8" font-size="31" font-weight="bold" text-anchor="middle">D0</text>
<text x="553.67" y="818.8" font-size="31" font-weight="bold" text-anchor="middle">D15</text>
<text x="620.17" y="818.8" font-size="31" font-weight="bold" text-anchor="middle">D30</text>
<text x="561.38" y="851.7" font-size="31" font-weight="bold" text-anchor="middle">Group B</text>
<text x="561.38" y="884.5" font-size="31" font-weight="bold" text-anchor="middle">(n = 25)</text>
<text x="721.42" y="818.8" font-size="31" font-weight="bold" text-anchor="middle">D0</text>
<text x="780.92" y="818.8" font-size="31" font-weight="bold" text-anchor="middle">D15</text>
<text x="847.42" y="818.8" font-size="31" font-weight="bold" text-anchor="middle">D30</text>
<text x="788.62" y="851.7" font-size="31" font-weight="bold" text-anchor="middle">Group D</text>
<text x="788.62" y="884.5" font-size="31" font-weight="bold" text-anchor="middle">(n = 27)</text>
<text x="948.67" y="818.8" font-size="31" font-weight="bold" text-anchor="middle">D0</text>
<text x="1008.17" y="818.8" font-size="31" font-weight="bold" text-anchor="middle">D15</text>
<text x="1074.67" y="818.8" font-size="31" font-weight="bold" text-anchor="middle">D30</text>
<text x="1015.88" y="851.7" font-size="31" font-weight="bold" text-anchor="middle">Group C</text>
<text x="1015.88" y="884.5" font-size="31" font-weight="bold" text-anchor="middle">(n = 23)</text>
<text transform="translate(92.9,445.3) rotate(-90) scale(1,1.05)" font-size="41" font-weight="bold" text-anchor="middle">Hb (g/dL)</text>
<line x1="265" y1="244.3" x2="393" y2="244.3" stroke="#000" stroke-width="4.8"/>
<text x="273.58" y="230.7" font-weight="bold" text-anchor="start"><tspan font-size="21.5" dy="-18.2">j</tspan><tspan font-size="31.15" dy="18.2" font-style="italic">p</tspan><tspan font-size="31.15"> &lt; 0.05</tspan></text>
<line x1="491" y1="243.5" x2="619" y2="243.5" stroke="#000" stroke-width="4.8"/>
<text x="486.08" y="222.9" font-weight="bold" text-anchor="start"><tspan font-size="22" dy="-18">j,k</tspan><tspan font-size="35.9" dy="18" font-style="italic">p</tspan><tspan font-size="35.9"> &lt; 0.05</tspan></text>
<line x1="496" y1="297.5" x2="556" y2="297.5" stroke="#000" stroke-width="4.8"/>
<text x="471.18" y="290.1" font-weight="bold" text-anchor="start"><tspan font-size="21.5" dy="-18.2">j</tspan><tspan font-size="31.21" dy="18.2" font-style="italic">p</tspan><tspan font-size="31.21"> &lt; 0.05</tspan></text>
<line x1="942.7" y1="244.4" x2="1070.8" y2="244.4" stroke="#000" stroke-width="4.8"/>
<text x="943.36" y="234.6" font-weight="bold" text-anchor="start"><tspan font-size="21.5" dy="-18.2">k</tspan><tspan font-size="31.03" dy="18.2" font-style="italic">p</tspan><tspan font-size="31.03"> &lt; 0.05</tspan></text>
<line x1="953.2" y1="301" x2="1012.7" y2="301" stroke="#000" stroke-width="4.8"/>
<text x="927.88" y="291.3" font-weight="bold" text-anchor="start"><tspan font-size="21.5" dy="-18.2">j</tspan><tspan font-size="30.84" dy="18.2" font-style="italic">p</tspan><tspan font-size="30.84"> &lt; 0.05</tspan></text>
<text x="508.4" y="369.9" font-size="35" font-weight="bold" text-anchor="middle">d,e</text>
<text x="560" y="386.7" font-size="35" font-weight="bold" text-anchor="middle">e</text>
<text x="618.4" y="393.7" font-size="35" font-weight="bold" text-anchor="middle">d</text>
<rect x="1418" y="123" width="891" height="625.8" fill="none" stroke="#000" stroke-width="2.2"/>
<line x1="1400" y1="748.8" x2="1418" y2="748.8" stroke="#000" stroke-width="3.8"/>
<text transform="translate(1380,760.3) scale(1,1.07)" font-size="41" text-anchor="end" class="tl">0</text>
<line x1="1408.5" y1="704.1" x2="1418" y2="704.1" stroke="#000" stroke-width="3.4"/>
<line x1="1400" y1="659.4" x2="1418" y2="659.4" stroke="#000" stroke-width="3.8"/>
<text transform="translate(1380,670.9) scale(1,1.07)" font-size="41" text-anchor="end" class="tl">20</text>
<line x1="1408.5" y1="614.7" x2="1418" y2="614.7" stroke="#000" stroke-width="3.4"/>
<line x1="1400" y1="570" x2="1418" y2="570" stroke="#000" stroke-width="3.8"/>
<text transform="translate(1380,581.5) scale(1,1.07)" font-size="41" text-anchor="end" class="tl">40</text>
<line x1="1408.5" y1="525.3" x2="1418" y2="525.3" stroke="#000" stroke-width="3.4"/>
<line x1="1400" y1="480.6" x2="1418" y2="480.6" stroke="#000" stroke-width="3.8"/>
<text transform="translate(1380,492.1) scale(1,1.07)" font-size="41" text-anchor="end" class="tl">60</text>
<line x1="1408.5" y1="435.9" x2="1418" y2="435.9" stroke="#000" stroke-width="3.4"/>
<line x1="1400" y1="391.2" x2="1418" y2="391.2" stroke="#000" stroke-width="3.8"/>
<text transform="translate(1380,402.7) scale(1,1.07)" font-size="41" text-anchor="end" class="tl">80</text>
<line x1="1408.5" y1="346.5" x2="1418" y2="346.5" stroke="#000" stroke-width="3.4"/>
<line x1="1400" y1="301.8" x2="1418" y2="301.8" stroke="#000" stroke-width="3.8"/>
<text transform="translate(1380,313.3) scale(1,1.07)" font-size="41" text-anchor="end" class="tl">100</text>
<line x1="1408.5" y1="257.1" x2="1418" y2="257.1" stroke="#000" stroke-width="3.4"/>
<line x1="1400" y1="212.4" x2="1418" y2="212.4" stroke="#000" stroke-width="3.8"/>
<text transform="translate(1380,223.9) scale(1,1.07)" font-size="41" text-anchor="end" class="tl">120</text>
<line x1="1408.5" y1="167.7" x2="1418" y2="167.7" stroke="#000" stroke-width="3.4"/>
<line x1="1400" y1="123" x2="1418" y2="123" stroke="#000" stroke-width="3.8"/>
<text transform="translate(1380,134.5) scale(1,1.07)" font-size="41" text-anchor="end" class="tl">140</text>
<line x1="1400" y1="748.8" x2="2309" y2="748.8" stroke="#000" stroke-width="3"/>
<line x1="1418" y1="748.8" x2="1418" y2="766.8" stroke="#000" stroke-width="3.6"/>
<line x1="1473.69" y1="748.8" x2="1473.69" y2="766.8" stroke="#000" stroke-width="3.6"/>
<line x1="1529.38" y1="748.8" x2="1529.38" y2="766.8" stroke="#000" stroke-width="3.6"/>
<line x1="1585.06" y1="748.8" x2="1585.06" y2="766.8" stroke="#000" stroke-width="3.6"/>
<line x1="1640.75" y1="748.8" x2="1640.75" y2="766.8" stroke="#000" stroke-width="3.6"/>
<line x1="1696.44" y1="748.8" x2="1696.44" y2="766.8" stroke="#000" stroke-width="3.6"/>
<line x1="1752.12" y1="748.8" x2="1752.12" y2="766.8" stroke="#000" stroke-width="3.6"/>
<line x1="1807.81" y1="748.8" x2="1807.81" y2="766.8" stroke="#000" stroke-width="3.6"/>
<line x1="1863.5" y1="748.8" x2="1863.5" y2="766.8" stroke="#000" stroke-width="3.6"/>
<line x1="1919.19" y1="748.8" x2="1919.19" y2="766.8" stroke="#000" stroke-width="3.6"/>
<line x1="1974.88" y1="748.8" x2="1974.88" y2="766.8" stroke="#000" stroke-width="3.6"/>
<line x1="2030.56" y1="748.8" x2="2030.56" y2="766.8" stroke="#000" stroke-width="3.6"/>
<line x1="2086.25" y1="748.8" x2="2086.25" y2="766.8" stroke="#000" stroke-width="3.6"/>
<line x1="2141.94" y1="748.8" x2="2141.94" y2="766.8" stroke="#000" stroke-width="3.6"/>
<line x1="2197.62" y1="748.8" x2="2197.62" y2="766.8" stroke="#000" stroke-width="3.6"/>
<line x1="2253.31" y1="748.8" x2="2253.31" y2="766.8" stroke="#000" stroke-width="3.6"/>
<line x1="2309" y1="748.8" x2="2309" y2="766.8" stroke="#000" stroke-width="3.6"/>
<line x1="1473.69" y1="362.9" x2="1473.69" y2="331.4" stroke="#000" stroke-width="4.6"/>
<line x1="1455.19" y1="331.4" x2="1492.19" y2="331.4" stroke="#000" stroke-width="4.6"/>
<rect x="1448.74" y="362.9" width="49.9" height="385.9" fill="#fff" stroke="#000" stroke-width="4.7"/>
<line x1="1529.38" y1="366.5" x2="1529.38" y2="337.4" stroke="#000" stroke-width="4.6"/>
<line x1="1510.88" y1="337.4" x2="1547.88" y2="337.4" stroke="#000" stroke-width="4.6"/>
<rect x="1504.42" y="366.5" width="49.9" height="382.3" fill="#fff" stroke="#000" stroke-width="4.7"/>
<line x1="1585.06" y1="366.5" x2="1585.06" y2="362.4" stroke="#000" stroke-width="4.6"/>
<line x1="1566.56" y1="362.4" x2="1603.56" y2="362.4" stroke="#000" stroke-width="4.6"/>
<rect x="1560.11" y="366.5" width="49.9" height="382.3" fill="#fff" stroke="#000" stroke-width="4.7"/>
<line x1="1696.44" y1="363" x2="1696.44" y2="334.8" stroke="#000" stroke-width="4.6"/>
<line x1="1677.94" y1="334.8" x2="1714.94" y2="334.8" stroke="#000" stroke-width="4.6"/>
<rect x="1671.49" y="363" width="49.9" height="385.8" fill="url(#p9)" stroke="#000" stroke-width="4.7"/>
<line x1="1752.12" y1="368.2" x2="1752.12" y2="337.9" stroke="#000" stroke-width="4.6"/>
<line x1="1733.62" y1="337.9" x2="1770.62" y2="337.9" stroke="#000" stroke-width="4.6"/>
<rect x="1727.17" y="368.2" width="49.9" height="380.6" fill="url(#p10)" stroke="#000" stroke-width="4.7"/>
<line x1="1807.81" y1="373.2" x2="1807.81" y2="341.4" stroke="#000" stroke-width="4.6"/>
<line x1="1789.31" y1="341.4" x2="1826.31" y2="341.4" stroke="#000" stroke-width="4.6"/>
<rect x="1782.86" y="373.2" width="49.9" height="375.6" fill="url(#p11)" stroke="#000" stroke-width="4.7"/>
<line x1="1919.19" y1="352.3" x2="1919.19" y2="326" stroke="#000" stroke-width="4.6"/>
<line x1="1900.69" y1="326" x2="1937.69" y2="326" stroke="#000" stroke-width="4.6"/>
<rect x="1894.24" y="352.3" width="49.9" height="396.5" fill="url(#p12)" stroke="#000" stroke-width="4.7"/>
<line x1="1974.88" y1="357.3" x2="1974.88" y2="329.5" stroke="#000" stroke-width="4.6"/>
<line x1="1956.38" y1="329.5" x2="1993.38" y2="329.5" stroke="#000" stroke-width="4.6"/>
<rect x="1949.92" y="357.3" width="49.9" height="391.5" fill="url(#p13)" stroke="#000" stroke-width="4.7"/>
<line x1="2030.56" y1="367.3" x2="2030.56" y2="311.7" stroke="#000" stroke-width="4.6"/>
<line x1="2012.06" y1="311.7" x2="2049.06" y2="311.7" stroke="#000" stroke-width="4.6"/>
<rect x="2005.61" y="367.3" width="49.9" height="381.5" fill="url(#p14)" stroke="#000" stroke-width="4.7"/>
<line x1="2141.94" y1="373.2" x2="2141.94" y2="329.8" stroke="#000" stroke-width="4.6"/>
<line x1="2123.44" y1="329.8" x2="2160.44" y2="329.8" stroke="#000" stroke-width="4.6"/>
<rect x="2116.99" y="373.2" width="49.9" height="375.6" fill="url(#p15)" stroke="#000" stroke-width="4.7"/>
<line x1="2197.62" y1="379.2" x2="2197.62" y2="337.4" stroke="#000" stroke-width="4.6"/>
<line x1="2179.12" y1="337.4" x2="2216.12" y2="337.4" stroke="#000" stroke-width="4.6"/>
<rect x="2172.67" y="379.2" width="49.9" height="369.6" fill="url(#p16)" stroke="#000" stroke-width="4.7"/>
<line x1="2253.31" y1="367.3" x2="2253.31" y2="321.9" stroke="#000" stroke-width="4.6"/>
<line x1="2234.81" y1="321.9" x2="2271.81" y2="321.9" stroke="#000" stroke-width="4.6"/>
<rect x="2228.36" y="367.3" width="49.9" height="381.5" fill="url(#p17)" stroke="#000" stroke-width="4.7"/>
<text x="1466.97" y="800.7" font-size="29" font-weight="bold" text-anchor="middle">D0</text>
<text x="1524.58" y="800.7" font-size="29" font-weight="bold" text-anchor="middle">D15</text>
<text x="1590.58" y="800.7" font-size="29" font-weight="bold" text-anchor="middle">D30</text>
<text x="1532.97" y="833" font-size="29" font-weight="bold" text-anchor="middle">Group A</text>
<text x="1532.97" y="865.4" font-size="29" font-weight="bold" text-anchor="middle">(n = 25)</text>
<text x="1689.72" y="800.7" font-size="29" font-weight="bold" text-anchor="middle">D0</text>
<text x="1747.33" y="800.7" font-size="29" font-weight="bold" text-anchor="middle">D15</text>
<text x="1813.33" y="800.7" font-size="29" font-weight="bold" text-anchor="middle">D30</text>
<text x="1755.72" y="833" font-size="29" font-weight="bold" text-anchor="middle">Group B</text>
<text x="1755.72" y="865.4" font-size="29" font-weight="bold" text-anchor="middle">(n = 25)</text>
<text x="1912.47" y="800.7" font-size="29" font-weight="bold" text-anchor="middle">D0</text>
<text x="1970.08" y="800.7" font-size="29" font-weight="bold" text-anchor="middle">D15</text>
<text x="2036.08" y="800.7" font-size="29" font-weight="bold" text-anchor="middle">D30</text>
<text x="1978.47" y="833" font-size="29" font-weight="bold" text-anchor="middle">Group D</text>
<text x="1978.47" y="865.4" font-size="29" font-weight="bold" text-anchor="middle">(n = 27)</text>
<text x="2135.22" y="800.7" font-size="29" font-weight="bold" text-anchor="middle">D0</text>
<text x="2192.82" y="800.7" font-size="29" font-weight="bold" text-anchor="middle">D15</text>
<text x="2258.82" y="800.7" font-size="29" font-weight="bold" text-anchor="middle">D30</text>
<text x="2201.22" y="833" font-size="29" font-weight="bold" text-anchor="middle">Group C</text>
<text x="2201.22" y="865.4" font-size="29" font-weight="bold" text-anchor="middle">(n = 23)</text>
<text transform="translate(1277.7,437) rotate(-90) scale(1,1.05)" font-size="40" font-weight="bold" text-anchor="middle">MCV (fL)</text>
<line x1="1466.1" y1="227.4" x2="1591.9" y2="227.4" stroke="#000" stroke-width="4.8"/>
<text x="1462.35" y="215.6" font-weight="bold" text-anchor="start"><tspan font-size="17" dy="-12.6">g</tspan><tspan font-size="29.59" dy="12.6" font-style="italic">p</tspan><tspan font-size="29.59"> &lt; 0.05</tspan></text>
<line x1="1687.1" y1="226.1" x2="1812.9" y2="226.1" stroke="#000" stroke-width="4.8"/>
<text x="1677.64" y="212.4" font-weight="bold" text-anchor="start"><tspan font-size="28" dy="-16.2">*h</tspan><tspan font-size="30.15" dy="16.2" font-style="italic">p</tspan><tspan font-size="30.15"> &lt; 0.05</tspan></text>
<line x1="1912.9" y1="224.8" x2="2040" y2="224.8" stroke="#000" stroke-width="4.8"/>
<text x="1918.77" y="212.4" font-weight="bold" text-anchor="start"><tspan font-size="24" dy="-15.5">i</tspan><tspan font-size="29.11" dy="15.5" font-style="italic">p</tspan><tspan font-size="29.11"> &lt; 0.05</tspan></text>
<line x1="2130" y1="224.8" x2="2256.2" y2="224.8" stroke="#000" stroke-width="4.8"/>
<text x="2117.01" y="205.2" font-weight="bold" text-anchor="start"><tspan font-size="22.5" dy="-14.2">g,h,i</tspan><tspan font-size="30.19" dy="14.2" font-style="italic">p</tspan><tspan font-size="30.19"> &lt; 0.05</tspan></text>
<text x="1530.5" y="335.06" font-size="32" font-weight="bold" text-anchor="middle">*</text>
<text x="1583.6" y="362.36" font-size="32" font-weight="bold" text-anchor="middle">*</text>
<text x="1809" y="339.06" font-size="32" font-weight="bold" text-anchor="middle">*</text>
<text x="1917.6" y="325.06" font-size="32" font-weight="bold" text-anchor="middle">*</text>
<text x="2030.5" y="310.06" font-size="32" font-weight="bold" text-anchor="middle">*</text>
<text x="2145.1" y="320.7" font-size="33" font-weight="bold" text-anchor="middle">e</text>
<text x="2201.9" y="325.5" font-size="33" font-weight="bold" text-anchor="middle">d,e</text>
<text x="2255.2" y="312.4" font-size="31" font-weight="bold" text-anchor="middle">d</text>
<rect x="216" y="1080" width="907" height="634.4" fill="none" stroke="#000" stroke-width="2.2"/>
<line x1="198" y1="1714.4" x2="216" y2="1714.4" stroke="#000" stroke-width="3.8"/>
<text transform="translate(177.5,1725.9) scale(1,1.07)" font-size="41" text-anchor="end" class="tl">0</text>
<line x1="206.5" y1="1701.71" x2="216" y2="1701.71" stroke="#000" stroke-width="3.4"/>
<line x1="206.5" y1="1689.02" x2="216" y2="1689.02" stroke="#000" stroke-width="3.4"/>
<line x1="206.5" y1="1676.34" x2="216" y2="1676.34" stroke="#000" stroke-width="3.4"/>
<line x1="206.5" y1="1663.65" x2="216" y2="1663.65" stroke="#000" stroke-width="3.4"/>
<line x1="198" y1="1650.96" x2="216" y2="1650.96" stroke="#000" stroke-width="3.8"/>
<text transform="translate(177.5,1662.46) scale(1,1.07)" font-size="41" text-anchor="end" class="tl">5</text>
<line x1="206.5" y1="1638.27" x2="216" y2="1638.27" stroke="#000" stroke-width="3.4"/>
<line x1="206.5" y1="1625.58" x2="216" y2="1625.58" stroke="#000" stroke-width="3.4"/>
<line x1="206.5" y1="1612.9" x2="216" y2="1612.9" stroke="#000" stroke-width="3.4"/>
<line x1="206.5" y1="1600.21" x2="216" y2="1600.21" stroke="#000" stroke-width="3.4"/>
<line x1="198" y1="1587.52" x2="216" y2="1587.52" stroke="#000" stroke-width="3.8"/>
<text transform="translate(177.5,1599.02) scale(1,1.07)" font-size="41" text-anchor="end" class="tl">10</text>
<line x1="206.5" y1="1574.83" x2="216" y2="1574.83" stroke="#000" stroke-width="3.4"/>
<line x1="206.5" y1="1562.14" x2="216" y2="1562.14" stroke="#000" stroke-width="3.4"/>
<line x1="206.5" y1="1549.46" x2="216" y2="1549.46" stroke="#000" stroke-width="3.4"/>
<line x1="206.5" y1="1536.77" x2="216" y2="1536.77" stroke="#000" stroke-width="3.4"/>
<line x1="198" y1="1524.08" x2="216" y2="1524.08" stroke="#000" stroke-width="3.8"/>
<text transform="translate(177.5,1535.58) scale(1,1.07)" font-size="41" text-anchor="end" class="tl">15</text>
<line x1="206.5" y1="1511.39" x2="216" y2="1511.39" stroke="#000" stroke-width="3.4"/>
<line x1="206.5" y1="1498.7" x2="216" y2="1498.7" stroke="#000" stroke-width="3.4"/>
<line x1="206.5" y1="1486.02" x2="216" y2="1486.02" stroke="#000" stroke-width="3.4"/>
<line x1="206.5" y1="1473.33" x2="216" y2="1473.33" stroke="#000" stroke-width="3.4"/>
<line x1="198" y1="1460.64" x2="216" y2="1460.64" stroke="#000" stroke-width="3.8"/>
<text transform="translate(177.5,1472.14) scale(1,1.07)" font-size="41" text-anchor="end" class="tl">20</text>
<line x1="206.5" y1="1447.95" x2="216" y2="1447.95" stroke="#000" stroke-width="3.4"/>
<line x1="206.5" y1="1435.26" x2="216" y2="1435.26" stroke="#000" stroke-width="3.4"/>
<line x1="206.5" y1="1422.58" x2="216" y2="1422.58" stroke="#000" stroke-width="3.4"/>
<line x1="206.5" y1="1409.89" x2="216" y2="1409.89" stroke="#000" stroke-width="3.4"/>
<line x1="198" y1="1397.2" x2="216" y2="1397.2" stroke="#000" stroke-width="3.8"/>
<text transform="translate(177.5,1408.7) scale(1,1.07)" font-size="41" text-anchor="end" class="tl">25</text>
<line x1="206.5" y1="1384.51" x2="216" y2="1384.51" stroke="#000" stroke-width="3.4"/>
<line x1="206.5" y1="1371.82" x2="216" y2="1371.82" stroke="#000" stroke-width="3.4"/>
<line x1="206.5" y1="1359.14" x2="216" y2="1359.14" stroke="#000" stroke-width="3.4"/>
<line x1="206.5" y1="1346.45" x2="216" y2="1346.45" stroke="#000" stroke-width="3.4"/>
<line x1="198" y1="1333.76" x2="216" y2="1333.76" stroke="#000" stroke-width="3.8"/>
<text transform="translate(177.5,1345.26) scale(1,1.07)" font-size="41" text-anchor="end" class="tl">30</text>
<line x1="206.5" y1="1321.07" x2="216" y2="1321.07" stroke="#000" stroke-width="3.4"/>
<line x1="206.5" y1="1308.38" x2="216" y2="1308.38" stroke="#000" stroke-width="3.4"/>
<line x1="206.5" y1="1295.7" x2="216" y2="1295.7" stroke="#000" stroke-width="3.4"/>
<line x1="206.5" y1="1283.01" x2="216" y2="1283.01" stroke="#000" stroke-width="3.4"/>
<line x1="198" y1="1270.32" x2="216" y2="1270.32" stroke="#000" stroke-width="3.8"/>
<text transform="translate(177.5,1281.82) scale(1,1.07)" font-size="41" text-anchor="end" class="tl">35</text>
<line x1="206.5" y1="1257.63" x2="216" y2="1257.63" stroke="#000" stroke-width="3.4"/>
<line x1="206.5" y1="1244.94" x2="216" y2="1244.94" stroke="#000" stroke-width="3.4"/>
<line x1="206.5" y1="1232.26" x2="216" y2="1232.26" stroke="#000" stroke-width="3.4"/>
<line x1="206.5" y1="1219.57" x2="216" y2="1219.57" stroke="#000" stroke-width="3.4"/>
<line x1="198" y1="1206.88" x2="216" y2="1206.88" stroke="#000" stroke-width="3.8"/>
<text transform="translate(177.5,1218.38) scale(1,1.07)" font-size="41" text-anchor="end" class="tl">40</text>
<line x1="206.5" y1="1194.19" x2="216" y2="1194.19" stroke="#000" stroke-width="3.4"/>
<line x1="206.5" y1="1181.5" x2="216" y2="1181.5" stroke="#000" stroke-width="3.4"/>
<line x1="206.5" y1="1168.82" x2="216" y2="1168.82" stroke="#000" stroke-width="3.4"/>
<line x1="206.5" y1="1156.13" x2="216" y2="1156.13" stroke="#000" stroke-width="3.4"/>
<line x1="198" y1="1143.44" x2="216" y2="1143.44" stroke="#000" stroke-width="3.8"/>
<text transform="translate(177.5,1154.94) scale(1,1.07)" font-size="41" text-anchor="end" class="tl">45</text>
<line x1="206.5" y1="1130.75" x2="216" y2="1130.75" stroke="#000" stroke-width="3.4"/>
<line x1="206.5" y1="1118.06" x2="216" y2="1118.06" stroke="#000" stroke-width="3.4"/>
<line x1="206.5" y1="1105.38" x2="216" y2="1105.38" stroke="#000" stroke-width="3.4"/>
<line x1="206.5" y1="1092.69" x2="216" y2="1092.69" stroke="#000" stroke-width="3.4"/>
<line x1="198" y1="1080" x2="216" y2="1080" stroke="#000" stroke-width="3.8"/>
<text transform="translate(177.5,1091.5) scale(1,1.07)" font-size="41" text-anchor="end" class="tl">50</text>
<line x1="198" y1="1714.4" x2="1123" y2="1714.4" stroke="#000" stroke-width="3"/>
<line x1="216" y1="1714.4" x2="216" y2="1732.4" stroke="#000" stroke-width="3.6"/>
<line x1="272.69" y1="1714.4" x2="272.69" y2="1732.4" stroke="#000" stroke-width="3.6"/>
<line x1="329.38" y1="1714.4" x2="329.38" y2="1732.4" stroke="#000" stroke-width="3.6"/>
<line x1="386.06" y1="1714.4" x2="386.06" y2="1732.4" stroke="#000" stroke-width="3.6"/>
<line x1="442.75" y1="1714.4" x2="442.75" y2="1732.4" stroke="#000" stroke-width="3.6"/>
<line x1="499.44" y1="1714.4" x2="499.44" y2="1732.4" stroke="#000" stroke-width="3.6"/>
<line x1="556.12" y1="1714.4" x2="556.12" y2="1732.4" stroke="#000" stroke-width="3.6"/>
<line x1="612.81" y1="1714.4" x2="612.81" y2="1732.4" stroke="#000" stroke-width="3.6"/>
<line x1="669.5" y1="1714.4" x2="669.5" y2="1732.4" stroke="#000" stroke-width="3.6"/>
<line x1="726.19" y1="1714.4" x2="726.19" y2="1732.4" stroke="#000" stroke-width="3.6"/>
<line x1="782.88" y1="1714.4" x2="782.88" y2="1732.4" stroke="#000" stroke-width="3.6"/>
<line x1="839.56" y1="1714.4" x2="839.56" y2="1732.4" stroke="#000" stroke-width="3.6"/>
<line x1="896.25" y1="1714.4" x2="896.25" y2="1732.4" stroke="#000" stroke-width="3.6"/>
<line x1="952.94" y1="1714.4" x2="952.94" y2="1732.4" stroke="#000" stroke-width="3.6"/>
<line x1="1009.62" y1="1714.4" x2="1009.62" y2="1732.4" stroke="#000" stroke-width="3.6"/>
<line x1="1066.31" y1="1714.4" x2="1066.31" y2="1732.4" stroke="#000" stroke-width="3.6"/>
<line x1="1123" y1="1714.4" x2="1123" y2="1732.4" stroke="#000" stroke-width="3.6"/>
<line x1="272.69" y1="1357.3" x2="272.69" y2="1323.5" stroke="#000" stroke-width="4.6"/>
<line x1="254.19" y1="1323.5" x2="291.19" y2="1323.5" stroke="#000" stroke-width="4.6"/>
<rect x="247.74" y="1357.3" width="49.9" height="357.1" fill="#fff" stroke="#000" stroke-width="4.7"/>
<line x1="329.38" y1="1360.9" x2="329.38" y2="1329.6" stroke="#000" stroke-width="4.6"/>
<line x1="310.88" y1="1329.6" x2="347.88" y2="1329.6" stroke="#000" stroke-width="4.6"/>
<rect x="304.43" y="1360.9" width="49.9" height="353.5" fill="#fff" stroke="#000" stroke-width="4.7"/>
<line x1="386.06" y1="1366.3" x2="386.06" y2="1335.3" stroke="#000" stroke-width="4.6"/>
<line x1="367.56" y1="1335.3" x2="404.56" y2="1335.3" stroke="#000" stroke-width="4.6"/>
<rect x="361.11" y="1366.3" width="49.9" height="348.1" fill="#fff" stroke="#000" stroke-width="4.7"/>
<line x1="499.44" y1="1360.4" x2="499.44" y2="1324.8" stroke="#000" stroke-width="4.6"/>
<line x1="480.94" y1="1324.8" x2="517.94" y2="1324.8" stroke="#000" stroke-width="4.6"/>
<rect x="474.49" y="1360.4" width="49.9" height="354" fill="url(#p18)" stroke="#000" stroke-width="4.7"/>
<line x1="556.12" y1="1369.5" x2="556.12" y2="1340.1" stroke="#000" stroke-width="4.6"/>
<line x1="537.62" y1="1340.1" x2="574.62" y2="1340.1" stroke="#000" stroke-width="4.6"/>
<rect x="531.18" y="1369.5" width="49.9" height="344.9" fill="url(#p19)" stroke="#000" stroke-width="4.7"/>
<line x1="612.81" y1="1370.2" x2="612.81" y2="1340.6" stroke="#000" stroke-width="4.6"/>
<line x1="594.31" y1="1340.6" x2="631.31" y2="1340.6" stroke="#000" stroke-width="4.6"/>
<rect x="587.86" y="1370.2" width="49.9" height="344.2" fill="url(#p20)" stroke="#000" stroke-width="4.7"/>
<line x1="726.19" y1="1352.4" x2="726.19" y2="1321.4" stroke="#000" stroke-width="4.6"/>
<line x1="707.69" y1="1321.4" x2="744.69" y2="1321.4" stroke="#000" stroke-width="4.6"/>
<rect x="701.24" y="1352.4" width="49.9" height="362" fill="url(#p21)" stroke="#000" stroke-width="4.7"/>
<line x1="782.88" y1="1356.5" x2="782.88" y2="1329.6" stroke="#000" stroke-width="4.6"/>
<line x1="764.38" y1="1329.6" x2="801.38" y2="1329.6" stroke="#000" stroke-width="4.6"/>
<rect x="757.93" y="1356.5" width="49.9" height="357.9" fill="url(#p22)" stroke="#000" stroke-width="4.7"/>
<line x1="839.56" y1="1359.7" x2="839.56" y2="1332.1" stroke="#000" stroke-width="4.6"/>
<line x1="821.06" y1="1332.1" x2="858.06" y2="1332.1" stroke="#000" stroke-width="4.6"/>
<rect x="814.61" y="1359.7" width="49.9" height="354.7" fill="url(#p23)" stroke="#000" stroke-width="4.7"/>
<line x1="952.94" y1="1373.1" x2="952.94" y2="1329.6" stroke="#000" stroke-width="4.6"/>
<line x1="934.44" y1="1329.6" x2="971.44" y2="1329.6" stroke="#000" stroke-width="4.6"/>
<rect x="927.99" y="1373.1" width="49.9" height="341.3" fill="url(#p24)" stroke="#000" stroke-width="4.7"/>
<line x1="1009.62" y1="1372.6" x2="1009.62" y2="1327.2" stroke="#000" stroke-width="4.6"/>
<line x1="991.12" y1="1327.2" x2="1028.12" y2="1327.2" stroke="#000" stroke-width="4.6"/>
<rect x="984.68" y="1372.6" width="49.9" height="341.8" fill="url(#p25)" stroke="#000" stroke-width="4.7"/>
<line x1="1066.31" y1="1374.3" x2="1066.31" y2="1331.6" stroke="#000" stroke-width="4.6"/>
<line x1="1047.81" y1="1331.6" x2="1084.81" y2="1331.6" stroke="#000" stroke-width="4.6"/>
<rect x="1041.36" y="1374.3" width="49.9" height="340.1" fill="url(#p26)" stroke="#000" stroke-width="4.7"/>
<text x="264.48" y="1768.4" font-size="29.5" font-weight="bold" text-anchor="middle">D0</text>
<text x="323.57" y="1768.4" font-size="29.5" font-weight="bold" text-anchor="middle">D15</text>
<text x="390.18" y="1768.4" font-size="29.5" font-weight="bold" text-anchor="middle">D30</text>
<text x="331.77" y="1800.7" font-size="29.5" font-weight="bold" text-anchor="middle">Group A</text>
<text x="332.18" y="1833.5" font-size="29.5" font-weight="bold" text-anchor="middle">(n = 25)</text>
<text x="491.23" y="1768.4" font-size="29.5" font-weight="bold" text-anchor="middle">D0</text>
<text x="550.33" y="1768.4" font-size="29.5" font-weight="bold" text-anchor="middle">D15</text>
<text x="616.92" y="1768.4" font-size="29.5" font-weight="bold" text-anchor="middle">D30</text>
<text x="558.52" y="1800.7" font-size="29.5" font-weight="bold" text-anchor="middle">Group B</text>
<text x="558.92" y="1833.5" font-size="29.5" font-weight="bold" text-anchor="middle">(n = 25)</text>
<text x="717.98" y="1768.4" font-size="29.5" font-weight="bold" text-anchor="middle">D0</text>
<text x="777.08" y="1768.4" font-size="29.5" font-weight="bold" text-anchor="middle">D15</text>
<text x="843.67" y="1768.4" font-size="29.5" font-weight="bold" text-anchor="middle">D30</text>
<text x="785.27" y="1800.7" font-size="29.5" font-weight="bold" text-anchor="middle">Group D</text>
<text x="785.67" y="1833.5" font-size="29.5" font-weight="bold" text-anchor="middle">(n = 27)</text>
<text x="944.73" y="1768.4" font-size="29.5" font-weight="bold" text-anchor="middle">D0</text>
<text x="1003.83" y="1768.4" font-size="29.5" font-weight="bold" text-anchor="middle">D15</text>
<text x="1070.42" y="1768.4" font-size="29.5" font-weight="bold" text-anchor="middle">D30</text>
<text x="1012.02" y="1800.7" font-size="29.5" font-weight="bold" text-anchor="middle">Group C</text>
<text x="1012.42" y="1833.5" font-size="29.5" font-weight="bold" text-anchor="middle">(n = 23)</text>
<text transform="translate(91.7,1396.6) rotate(-90) scale(1,1.05)" font-size="40" font-weight="bold" text-anchor="middle">MCH (pg)</text>
<line x1="264.1" y1="1150" x2="392.8" y2="1150" stroke="#000" stroke-width="4.8"/>
<text x="272.13" y="1138.5" font-weight="bold" text-anchor="start"><tspan font-size="21.8" dy="-15.8">g</tspan><tspan font-size="30.27" dy="15.8" font-style="italic">p</tspan><tspan font-size="30.27"> &lt; 0.05</tspan></text>
<line x1="490.4" y1="1145.8" x2="618.1" y2="1145.8" stroke="#000" stroke-width="4.8"/>
<text x="484.05" y="1132.4" font-weight="bold" text-anchor="start"><tspan font-size="35">*</tspan><tspan font-size="21.3" dy="-15.3">h</tspan><tspan font-size="31.37" dy="15.3" font-style="italic">p</tspan><tspan font-size="31.37"> &lt; 0.05</tspan></text>
<line x1="495.2" y1="1202.4" x2="554.7" y2="1202.4" stroke="#000" stroke-width="4.8"/>
<text x="470.72" y="1189.7" font-weight="bold" text-anchor="start"><tspan font-size="26">*</tspan><tspan font-size="30.03" font-style="italic">p</tspan><tspan font-size="30.03"> &lt; 0.05</tspan></text>
<text x="271.5" y="1309.45" font-size="38" font-weight="bold" text-anchor="middle">*</text>
<text x="292.5" y="1311.6" font-size="36" font-weight="bold" text-anchor="middle">a</text>
<text x="326.9" y="1317.95" font-size="38" font-weight="bold" text-anchor="middle">*</text>
<text x="348" y="1320.6" font-size="36" font-weight="bold" text-anchor="middle">b</text>
<text x="395.2" y="1323" font-size="36" font-weight="bold" text-anchor="middle">a,b</text>
<text x="506.7" y="1313.3" font-size="36" font-weight="bold" text-anchor="middle">a,b</text>
<text x="558.2" y="1330.4" font-size="36" font-weight="bold" text-anchor="middle">a</text>
<text x="607.6" y="1326.45" font-size="38" font-weight="bold" text-anchor="middle">*</text>
<text x="628.5" y="1328.7" font-size="36" font-weight="bold" text-anchor="middle">b</text>
<line x1="720.2" y1="1142.2" x2="847.7" y2="1142.2" stroke="#000" stroke-width="4.8"/>
<text x="730.6" y="1129.7" font-weight="bold" text-anchor="start"><tspan font-size="27.5" dy="-15.5">i</tspan><tspan font-size="30.14" dy="15.5" font-style="italic">p</tspan><tspan font-size="30.14"> &lt; 0.05</tspan></text>
<line x1="940.4" y1="1142.7" x2="1068.8" y2="1142.7" stroke="#000" stroke-width="4.8"/>
<text x="920.54" y="1130.8" font-weight="bold" text-anchor="start"><tspan font-size="29" dy="-15.1">g,h,i</tspan><tspan font-size="30.82" dy="15.1" font-style="italic">p</tspan><tspan font-size="30.82"> &lt; 0.05</tspan></text>
<text x="716.6" y="1306.95" font-size="38" font-weight="bold" text-anchor="middle">*</text>
<text x="736.3" y="1309.7" font-size="36" font-weight="bold" text-anchor="middle">a</text>
<text x="773.5" y="1316.25" font-size="38" font-weight="bold" text-anchor="middle">*</text>
<text x="793.6" y="1317.7" font-size="36" font-weight="bold" text-anchor="middle">b</text>
<text x="825" y="1319.85" font-size="38" font-weight="bold" text-anchor="middle">*</text>
<text x="859.2" y="1320.6" font-size="36" font-weight="bold" text-anchor="middle">a,b</text>
<text x="953.7" y="1319.4" font-size="34" font-weight="bold" text-anchor="middle">d</text>
<rect x="1401" y="1081" width="909" height="643.8" fill="none" stroke="#000" stroke-width="2.2"/>
<line x1="1383" y1="1724.8" x2="1401" y2="1724.8" stroke="#000" stroke-width="3.8"/>
<text transform="translate(1362.2,1736.8) scale(1,1.07)" font-size="41" text-anchor="end" class="tl">0</text>
<line x1="1391.5" y1="1711.92" x2="1401" y2="1711.92" stroke="#000" stroke-width="3.4"/>
<line x1="1391.5" y1="1699.05" x2="1401" y2="1699.05" stroke="#000" stroke-width="3.4"/>
<line x1="1391.5" y1="1686.17" x2="1401" y2="1686.17" stroke="#000" stroke-width="3.4"/>
<line x1="1391.5" y1="1673.3" x2="1401" y2="1673.3" stroke="#000" stroke-width="3.4"/>
<line x1="1383" y1="1660.42" x2="1401" y2="1660.42" stroke="#000" stroke-width="3.8"/>
<text transform="translate(1362.2,1672.42) scale(1,1.07)" font-size="41" text-anchor="end" class="tl">5</text>
<line x1="1391.5" y1="1647.54" x2="1401" y2="1647.54" stroke="#000" stroke-width="3.4"/>
<line x1="1391.5" y1="1634.67" x2="1401" y2="1634.67" stroke="#000" stroke-width="3.4"/>
<line x1="1391.5" y1="1621.79" x2="1401" y2="1621.79" stroke="#000" stroke-width="3.4"/>
<line x1="1391.5" y1="1608.92" x2="1401" y2="1608.92" stroke="#000" stroke-width="3.4"/>
<line x1="1383" y1="1596.04" x2="1401" y2="1596.04" stroke="#000" stroke-width="3.8"/>
<text transform="translate(1362.2,1608.04) scale(1,1.07)" font-size="41" text-anchor="end" class="tl">10</text>
<line x1="1391.5" y1="1583.16" x2="1401" y2="1583.16" stroke="#000" stroke-width="3.4"/>
<line x1="1391.5" y1="1570.29" x2="1401" y2="1570.29" stroke="#000" stroke-width="3.4"/>
<line x1="1391.5" y1="1557.41" x2="1401" y2="1557.41" stroke="#000" stroke-width="3.4"/>
<line x1="1391.5" y1="1544.54" x2="1401" y2="1544.54" stroke="#000" stroke-width="3.4"/>
<line x1="1383" y1="1531.66" x2="1401" y2="1531.66" stroke="#000" stroke-width="3.8"/>
<text transform="translate(1362.2,1543.66) scale(1,1.07)" font-size="41" text-anchor="end" class="tl">15</text>
<line x1="1391.5" y1="1518.78" x2="1401" y2="1518.78" stroke="#000" stroke-width="3.4"/>
<line x1="1391.5" y1="1505.91" x2="1401" y2="1505.91" stroke="#000" stroke-width="3.4"/>
<line x1="1391.5" y1="1493.03" x2="1401" y2="1493.03" stroke="#000" stroke-width="3.4"/>
<line x1="1391.5" y1="1480.16" x2="1401" y2="1480.16" stroke="#000" stroke-width="3.4"/>
<line x1="1383" y1="1467.28" x2="1401" y2="1467.28" stroke="#000" stroke-width="3.8"/>
<text transform="translate(1362.2,1479.28) scale(1,1.07)" font-size="41" text-anchor="end" class="tl">20</text>
<line x1="1391.5" y1="1454.4" x2="1401" y2="1454.4" stroke="#000" stroke-width="3.4"/>
<line x1="1391.5" y1="1441.53" x2="1401" y2="1441.53" stroke="#000" stroke-width="3.4"/>
<line x1="1391.5" y1="1428.65" x2="1401" y2="1428.65" stroke="#000" stroke-width="3.4"/>
<line x1="1391.5" y1="1415.78" x2="1401" y2="1415.78" stroke="#000" stroke-width="3.4"/>
<line x1="1383" y1="1402.9" x2="1401" y2="1402.9" stroke="#000" stroke-width="3.8"/>
<text transform="translate(1362.2,1414.9) scale(1,1.07)" font-size="41" text-anchor="end" class="tl">25</text>
<line x1="1391.5" y1="1390.02" x2="1401" y2="1390.02" stroke="#000" stroke-width="3.4"/>
<line x1="1391.5" y1="1377.15" x2="1401" y2="1377.15" stroke="#000" stroke-width="3.4"/>
<line x1="1391.5" y1="1364.27" x2="1401" y2="1364.27" stroke="#000" stroke-width="3.4"/>
<line x1="1391.5" y1="1351.4" x2="1401" y2="1351.4" stroke="#000" stroke-width="3.4"/>
<line x1="1383" y1="1338.52" x2="1401" y2="1338.52" stroke="#000" stroke-width="3.8"/>
<text transform="translate(1362.2,1350.52) scale(1,1.07)" font-size="41" text-anchor="end" class="tl">30</text>
<line x1="1391.5" y1="1325.64" x2="1401" y2="1325.64" stroke="#000" stroke-width="3.4"/>
<line x1="1391.5" y1="1312.77" x2="1401" y2="1312.77" stroke="#000" stroke-width="3.4"/>
<line x1="1391.5" y1="1299.89" x2="1401" y2="1299.89" stroke="#000" stroke-width="3.4"/>
<line x1="1391.5" y1="1287.02" x2="1401" y2="1287.02" stroke="#000" stroke-width="3.4"/>
<line x1="1383" y1="1274.14" x2="1401" y2="1274.14" stroke="#000" stroke-width="3.8"/>
<text transform="translate(1362.2,1286.14) scale(1,1.07)" font-size="41" text-anchor="end" class="tl">35</text>
<line x1="1391.5" y1="1261.26" x2="1401" y2="1261.26" stroke="#000" stroke-width="3.4"/>
<line x1="1391.5" y1="1248.39" x2="1401" y2="1248.39" stroke="#000" stroke-width="3.4"/>
<line x1="1391.5" y1="1235.51" x2="1401" y2="1235.51" stroke="#000" stroke-width="3.4"/>
<line x1="1391.5" y1="1222.64" x2="1401" y2="1222.64" stroke="#000" stroke-width="3.4"/>
<line x1="1383" y1="1209.76" x2="1401" y2="1209.76" stroke="#000" stroke-width="3.8"/>
<text transform="translate(1362.2,1221.76) scale(1,1.07)" font-size="41" text-anchor="end" class="tl">40</text>
<line x1="1391.5" y1="1196.88" x2="1401" y2="1196.88" stroke="#000" stroke-width="3.4"/>
<line x1="1391.5" y1="1184.01" x2="1401" y2="1184.01" stroke="#000" stroke-width="3.4"/>
<line x1="1391.5" y1="1171.13" x2="1401" y2="1171.13" stroke="#000" stroke-width="3.4"/>
<line x1="1391.5" y1="1158.26" x2="1401" y2="1158.26" stroke="#000" stroke-width="3.4"/>
<line x1="1383" y1="1145.38" x2="1401" y2="1145.38" stroke="#000" stroke-width="3.8"/>
<text transform="translate(1362.2,1157.38) scale(1,1.07)" font-size="41" text-anchor="end" class="tl">45</text>
<line x1="1391.5" y1="1132.5" x2="1401" y2="1132.5" stroke="#000" stroke-width="3.4"/>
<line x1="1391.5" y1="1119.63" x2="1401" y2="1119.63" stroke="#000" stroke-width="3.4"/>
<line x1="1391.5" y1="1106.75" x2="1401" y2="1106.75" stroke="#000" stroke-width="3.4"/>
<line x1="1391.5" y1="1093.88" x2="1401" y2="1093.88" stroke="#000" stroke-width="3.4"/>
<line x1="1383" y1="1081" x2="1401" y2="1081" stroke="#000" stroke-width="3.8"/>
<text transform="translate(1362.2,1093) scale(1,1.07)" font-size="41" text-anchor="end" class="tl">50</text>
<line x1="1383" y1="1724.8" x2="2310" y2="1724.8" stroke="#000" stroke-width="3"/>
<line x1="1401" y1="1724.8" x2="1401" y2="1742.8" stroke="#000" stroke-width="3.6"/>
<line x1="1457.81" y1="1724.8" x2="1457.81" y2="1742.8" stroke="#000" stroke-width="3.6"/>
<line x1="1514.62" y1="1724.8" x2="1514.62" y2="1742.8" stroke="#000" stroke-width="3.6"/>
<line x1="1571.44" y1="1724.8" x2="1571.44" y2="1742.8" stroke="#000" stroke-width="3.6"/>
<line x1="1628.25" y1="1724.8" x2="1628.25" y2="1742.8" stroke="#000" stroke-width="3.6"/>
<line x1="1685.06" y1="1724.8" x2="1685.06" y2="1742.8" stroke="#000" stroke-width="3.6"/>
<line x1="1741.88" y1="1724.8" x2="1741.88" y2="1742.8" stroke="#000" stroke-width="3.6"/>
<line x1="1798.69" y1="1724.8" x2="1798.69" y2="1742.8" stroke="#000" stroke-width="3.6"/>
<line x1="1855.5" y1="1724.8" x2="1855.5" y2="1742.8" stroke="#000" stroke-width="3.6"/>
<line x1="1912.31" y1="1724.8" x2="1912.31" y2="1742.8" stroke="#000" stroke-width="3.6"/>
<line x1="1969.12" y1="1724.8" x2="1969.12" y2="1742.8" stroke="#000" stroke-width="3.6"/>
<line x1="2025.94" y1="1724.8" x2="2025.94" y2="1742.8" stroke="#000" stroke-width="3.6"/>
<line x1="2082.75" y1="1724.8" x2="2082.75" y2="1742.8" stroke="#000" stroke-width="3.6"/>
<line x1="2139.56" y1="1724.8" x2="2139.56" y2="1742.8" stroke="#000" stroke-width="3.6"/>
<line x1="2196.38" y1="1724.8" x2="2196.38" y2="1742.8" stroke="#000" stroke-width="3.6"/>
<line x1="2253.19" y1="1724.8" x2="2253.19" y2="1742.8" stroke="#000" stroke-width="3.6"/>
<line x1="2310" y1="1724.8" x2="2310" y2="1742.8" stroke="#000" stroke-width="3.6"/>
<line x1="1457.81" y1="1304.1" x2="1457.81" y2="1292.3" stroke="#000" stroke-width="4.6"/>
<line x1="1439.31" y1="1292.3" x2="1476.31" y2="1292.3" stroke="#000" stroke-width="4.6"/>
<rect x="1431.76" y="1304.1" width="52.1" height="420.7" fill="#fff" stroke="#000" stroke-width="4.7"/>
<line x1="1514.62" y1="1306.5" x2="1514.62" y2="1276.5" stroke="#000" stroke-width="4.6"/>
<line x1="1496.12" y1="1276.5" x2="1533.12" y2="1276.5" stroke="#000" stroke-width="4.6"/>
<rect x="1488.57" y="1306.5" width="52.1" height="418.3" fill="#fff" stroke="#000" stroke-width="4.7"/>
<line x1="1571.44" y1="1311.9" x2="1571.44" y2="1301.4" stroke="#000" stroke-width="4.6"/>
<line x1="1552.94" y1="1301.4" x2="1589.94" y2="1301.4" stroke="#000" stroke-width="4.6"/>
<rect x="1545.39" y="1311.9" width="52.1" height="412.9" fill="#fff" stroke="#000" stroke-width="4.7"/>
<line x1="1685.06" y1="1309" x2="1685.06" y2="1288.7" stroke="#000" stroke-width="4.6"/>
<line x1="1666.56" y1="1288.7" x2="1703.56" y2="1288.7" stroke="#000" stroke-width="4.6"/>
<rect x="1660.11" y="1309" width="49.9" height="415.8" fill="url(#p27)" stroke="#000" stroke-width="4.7"/>
<line x1="1741.88" y1="1315.6" x2="1741.88" y2="1302.6" stroke="#000" stroke-width="4.6"/>
<line x1="1723.38" y1="1302.6" x2="1760.38" y2="1302.6" stroke="#000" stroke-width="4.6"/>
<rect x="1716.92" y="1315.6" width="49.9" height="409.2" fill="url(#p28)" stroke="#000" stroke-width="4.7"/>
<line x1="1798.69" y1="1317.3" x2="1798.69" y2="1303.3" stroke="#000" stroke-width="4.6"/>
<line x1="1780.19" y1="1303.3" x2="1817.19" y2="1303.3" stroke="#000" stroke-width="4.6"/>
<rect x="1773.74" y="1317.3" width="49.9" height="407.5" fill="url(#p29)" stroke="#000" stroke-width="4.7"/>
<line x1="1912.31" y1="1311.2" x2="1912.31" y2="1297.7" stroke="#000" stroke-width="4.6"/>
<line x1="1893.81" y1="1297.7" x2="1930.81" y2="1297.7" stroke="#000" stroke-width="4.6"/>
<rect x="1887.36" y="1311.2" width="49.9" height="413.6" fill="url(#p30)" stroke="#000" stroke-width="4.7"/>
<line x1="1969.12" y1="1310.2" x2="1969.12" y2="1296.7" stroke="#000" stroke-width="4.6"/>
<line x1="1950.62" y1="1296.7" x2="1987.62" y2="1296.7" stroke="#000" stroke-width="4.6"/>
<rect x="1944.17" y="1310.2" width="49.9" height="414.6" fill="url(#p31)" stroke="#000" stroke-width="4.7"/>
<line x1="2025.94" y1="1316" x2="2025.94" y2="1305" stroke="#000" stroke-width="4.6"/>
<line x1="2007.44" y1="1305" x2="2044.44" y2="1305" stroke="#000" stroke-width="4.6"/>
<rect x="2000.99" y="1316" width="49.9" height="408.8" fill="url(#p32)" stroke="#000" stroke-width="4.7"/>
<line x1="2139.56" y1="1314.8" x2="2139.56" y2="1298.4" stroke="#000" stroke-width="4.6"/>
<line x1="2121.06" y1="1298.4" x2="2158.06" y2="1298.4" stroke="#000" stroke-width="4.6"/>
<rect x="2114.61" y="1314.8" width="49.9" height="410" fill="url(#p33)" stroke="#000" stroke-width="4.7"/>
<line x1="2196.38" y1="1307.5" x2="2196.38" y2="1291.9" stroke="#000" stroke-width="4.6"/>
<line x1="2177.88" y1="1291.9" x2="2214.88" y2="1291.9" stroke="#000" stroke-width="4.6"/>
<rect x="2171.42" y="1307.5" width="49.9" height="417.3" fill="url(#p34)" stroke="#000" stroke-width="4.7"/>
<line x1="2253.19" y1="1322.4" x2="2253.19" y2="1305" stroke="#000" stroke-width="4.6"/>
<line x1="2234.69" y1="1305" x2="2271.69" y2="1305" stroke="#000" stroke-width="4.6"/>
<rect x="2228.24" y="1322.4" width="49.9" height="402.4" fill="url(#p35)" stroke="#000" stroke-width="4.7"/>
<text x="1450.62" y="1779.6" font-size="31" font-weight="bold" text-anchor="middle">D0</text>
<text x="1510.33" y="1779.6" font-size="31" font-weight="bold" text-anchor="middle">D15</text>
<text x="1577.12" y="1779.6" font-size="31" font-weight="bold" text-anchor="middle">D30</text>
<text x="1517.72" y="1812.4" font-size="31" font-weight="bold" text-anchor="middle">Group A</text>
<text x="1517.03" y="1845.6" font-size="31" font-weight="bold" text-anchor="middle">(n = 25)</text>
<text x="1677.88" y="1779.6" font-size="31" font-weight="bold" text-anchor="middle">D0</text>
<text x="1737.58" y="1779.6" font-size="31" font-weight="bold" text-anchor="middle">D15</text>
<text x="1804.38" y="1779.6" font-size="31" font-weight="bold" text-anchor="middle">D30</text>
<text x="1744.97" y="1812.4" font-size="31" font-weight="bold" text-anchor="middle">Group B</text>
<text x="1744.28" y="1845.6" font-size="31" font-weight="bold" text-anchor="middle">(n = 25)</text>
<text x="1905.12" y="1779.6" font-size="31" font-weight="bold" text-anchor="middle">D0</text>
<text x="1964.83" y="1779.6" font-size="31" font-weight="bold" text-anchor="middle">D15</text>
<text x="2031.62" y="1779.6" font-size="31" font-weight="bold" text-anchor="middle">D30</text>
<text x="1972.22" y="1812.4" font-size="31" font-weight="bold" text-anchor="middle">Group D</text>
<text x="1971.53" y="1845.6" font-size="31" font-weight="bold" text-anchor="middle">(n = 27)</text>
<text x="2132.38" y="1779.6" font-size="31" font-weight="bold" text-anchor="middle">D0</text>
<text x="2192.07" y="1779.6" font-size="31" font-weight="bold" text-anchor="middle">D15</text>
<text x="2258.88" y="1779.6" font-size="31" font-weight="bold" text-anchor="middle">D30</text>
<text x="2199.47" y="1812.4" font-size="31" font-weight="bold" text-anchor="middle">Group C</text>
<text x="2198.78" y="1845.6" font-size="31" font-weight="bold" text-anchor="middle">(n = 23)</text>
<text transform="translate(1276,1402.9) rotate(-90) scale(1,1.05)" font-size="41" font-weight="bold" text-anchor="middle">MCHC (g/dL)</text>
<text x="1459.8" y="1282.1" font-size="32" font-weight="bold" text-anchor="middle">d</text>
<text x="1574.6" y="1290.4" font-size="32" font-weight="bold" text-anchor="middle">d</text>
<text x="1688.2" y="1283.16" font-size="32" font-weight="bold" text-anchor="middle">*</text>
<line x1="1676" y1="1125.3" x2="1804.7" y2="1125.3" stroke="#000" stroke-width="4.8"/>
<text x="1676.25" y="1114.6" font-weight="bold" text-anchor="start"><tspan font-size="23" dy="-2">*</tspan><tspan font-size="31.45" dy="2" font-style="italic">p</tspan><tspan font-size="31.45"> &lt; 0.05</tspan></text>
<line x1="1744.2" y1="1172.4" x2="1804.7" y2="1172.4" stroke="#000" stroke-width="4.8"/>
<text x="1703.8" y="1159.5" font-weight="bold" text-anchor="start"><tspan font-size="27.8" dy="-15.4">a</tspan><tspan font-size="30.94" dy="15.4" font-style="italic">p</tspan><tspan font-size="30.94"> &lt; 0.05</tspan></text>
<line x1="1681.3" y1="1218.5" x2="1741.8" y2="1218.5" stroke="#000" stroke-width="4.8"/>
<text x="1642.9" y="1208.2" font-weight="bold" text-anchor="start"><tspan font-size="27.8" dy="-14.6">a</tspan><tspan font-size="30.94" dy="14.6" font-style="italic">p</tspan><tspan font-size="30.94"> &lt; 0.05</tspan></text>
<text x="1913.4" y="1288.7" font-size="32" font-weight="bold" text-anchor="middle">d</text>
<text x="1971.2" y="1287.5" font-size="32" font-weight="bold" text-anchor="middle">e</text>
<text x="2033.3" y="1290.4" font-size="32" font-weight="bold" text-anchor="middle">d,e</text>
<text x="2144.2" y="1280.6" font-size="32" font-weight="bold" text-anchor="middle">d,e</text>
<text x="2203.9" y="1277.7" font-size="32" font-weight="bold" text-anchor="middle">d,f</text>
<text x="2258.5" y="1286.2" font-size="32" font-weight="bold" text-anchor="middle">e,f</text>
<line x1="2196.9" y1="1171.2" x2="2256.6" y2="1171.2" stroke="#000" stroke-width="4.8"/>
<text x="2163.8" y="1159.5" font-weight="bold" text-anchor="start"><tspan font-size="27.8" dy="-15.9">a</tspan><tspan font-size="30.94" dy="15.9" font-style="italic">p</tspan><tspan font-size="30.94"> &lt; 0.05</tspan></text>
<line x1="2138.9" y1="1214.3" x2="2198.9" y2="1214.3" stroke="#000" stroke-width="4.8"/>
<text x="2109.5" y="1202.1" font-weight="bold" text-anchor="start"><tspan font-size="27.8" dy="-15.3">a</tspan><tspan font-size="30.94" dy="15.3" font-style="italic">p</tspan><tspan font-size="30.94"> &lt; 0.05</tspan></text>
<rect x="221" y="2039" width="893.5" height="629.9" fill="none" stroke="#000" stroke-width="2.2"/>
<line x1="203" y1="2668.9" x2="221" y2="2668.9" stroke="#000" stroke-width="3.8"/>
<text transform="translate(183.5,2680.4) scale(1,1.07)" font-size="41" text-anchor="end" class="tl">0</text>
<line x1="211.5" y1="2629.53" x2="221" y2="2629.53" stroke="#000" stroke-width="3.4"/>
<line x1="203" y1="2590.16" x2="221" y2="2590.16" stroke="#000" stroke-width="3.8"/>
<text transform="translate(183.5,2601.66) scale(1,1.07)" font-size="41" text-anchor="end" class="tl">2</text>
<line x1="211.5" y1="2550.79" x2="221" y2="2550.79" stroke="#000" stroke-width="3.4"/>
<line x1="203" y1="2511.43" x2="221" y2="2511.43" stroke="#000" stroke-width="3.8"/>
<text transform="translate(183.5,2522.93) scale(1,1.07)" font-size="41" text-anchor="end" class="tl">4</text>
<line x1="211.5" y1="2472.06" x2="221" y2="2472.06" stroke="#000" stroke-width="3.4"/>
<line x1="203" y1="2432.69" x2="221" y2="2432.69" stroke="#000" stroke-width="3.8"/>
<text transform="translate(183.5,2444.19) scale(1,1.07)" font-size="41" text-anchor="end" class="tl">6</text>
<line x1="211.5" y1="2393.32" x2="221" y2="2393.32" stroke="#000" stroke-width="3.4"/>
<line x1="203" y1="2353.95" x2="221" y2="2353.95" stroke="#000" stroke-width="3.8"/>
<text transform="translate(183.5,2365.45) scale(1,1.07)" font-size="41" text-anchor="end" class="tl">8</text>
<line x1="211.5" y1="2314.58" x2="221" y2="2314.58" stroke="#000" stroke-width="3.4"/>
<line x1="203" y1="2275.21" x2="221" y2="2275.21" stroke="#000" stroke-width="3.8"/>
<text transform="translate(183.5,2286.71) scale(1,1.07)" font-size="41" text-anchor="end" class="tl">10</text>
<line x1="211.5" y1="2235.84" x2="221" y2="2235.84" stroke="#000" stroke-width="3.4"/>
<line x1="203" y1="2196.47" x2="221" y2="2196.47" stroke="#000" stroke-width="3.8"/>
<text transform="translate(183.5,2207.97) scale(1,1.07)" font-size="41" text-anchor="end" class="tl">12</text>
<line x1="211.5" y1="2157.11" x2="221" y2="2157.11" stroke="#000" stroke-width="3.4"/>
<line x1="203" y1="2117.74" x2="221" y2="2117.74" stroke="#000" stroke-width="3.8"/>
<text transform="translate(183.5,2129.24) scale(1,1.07)" font-size="41" text-anchor="end" class="tl">14</text>
<line x1="211.5" y1="2078.37" x2="221" y2="2078.37" stroke="#000" stroke-width="3.4"/>
<line x1="203" y1="2039" x2="221" y2="2039" stroke="#000" stroke-width="3.8"/>
<text transform="translate(183.5,2050.5) scale(1,1.07)" font-size="41" text-anchor="end" class="tl">16</text>
<line x1="203" y1="2668.9" x2="1114.5" y2="2668.9" stroke="#000" stroke-width="3"/>
<line x1="221" y1="2668.9" x2="221" y2="2686.9" stroke="#000" stroke-width="3.6"/>
<line x1="276.84" y1="2668.9" x2="276.84" y2="2686.9" stroke="#000" stroke-width="3.6"/>
<line x1="332.69" y1="2668.9" x2="332.69" y2="2686.9" stroke="#000" stroke-width="3.6"/>
<line x1="388.53" y1="2668.9" x2="388.53" y2="2686.9" stroke="#000" stroke-width="3.6"/>
<line x1="444.38" y1="2668.9" x2="444.38" y2="2686.9" stroke="#000" stroke-width="3.6"/>
<line x1="500.22" y1="2668.9" x2="500.22" y2="2686.9" stroke="#000" stroke-width="3.6"/>
<line x1="556.06" y1="2668.9" x2="556.06" y2="2686.9" stroke="#000" stroke-width="3.6"/>
<line x1="611.91" y1="2668.9" x2="611.91" y2="2686.9" stroke="#000" stroke-width="3.6"/>
<line x1="667.75" y1="2668.9" x2="667.75" y2="2686.9" stroke="#000" stroke-width="3.6"/>
<line x1="723.59" y1="2668.9" x2="723.59" y2="2686.9" stroke="#000" stroke-width="3.6"/>
<line x1="779.44" y1="2668.9" x2="779.44" y2="2686.9" stroke="#000" stroke-width="3.6"/>
<line x1="835.28" y1="2668.9" x2="835.28" y2="2686.9" stroke="#000" stroke-width="3.6"/>
<line x1="891.12" y1="2668.9" x2="891.12" y2="2686.9" stroke="#000" stroke-width="3.6"/>
<line x1="946.97" y1="2668.9" x2="946.97" y2="2686.9" stroke="#000" stroke-width="3.6"/>
<line x1="1002.81" y1="2668.9" x2="1002.81" y2="2686.9" stroke="#000" stroke-width="3.6"/>
<line x1="1058.66" y1="2668.9" x2="1058.66" y2="2686.9" stroke="#000" stroke-width="3.6"/>
<line x1="1114.5" y1="2668.9" x2="1114.5" y2="2686.9" stroke="#000" stroke-width="3.6"/>
<line x1="276.84" y1="2410.6" x2="276.84" y2="2363" stroke="#000" stroke-width="4.6"/>
<line x1="258.34" y1="2363" x2="295.34" y2="2363" stroke="#000" stroke-width="4.6"/>
<rect x="251.89" y="2410.6" width="49.9" height="258.3" fill="#fff" stroke="#000" stroke-width="4.7"/>
<line x1="332.69" y1="2388" x2="332.69" y2="2320.1" stroke="#000" stroke-width="4.6"/>
<line x1="314.19" y1="2320.1" x2="351.19" y2="2320.1" stroke="#000" stroke-width="4.6"/>
<rect x="307.74" y="2388" width="50.52" height="280.9" fill="#fff" stroke="#000" stroke-width="4.7"/>
<line x1="388.53" y1="2332.6" x2="388.53" y2="2244.5" stroke="#000" stroke-width="4.6"/>
<line x1="370.03" y1="2244.5" x2="407.03" y2="2244.5" stroke="#000" stroke-width="4.6"/>
<rect x="362.96" y="2332.6" width="50.52" height="336.3" fill="#fff" stroke="#000" stroke-width="4.7"/>
<line x1="500.22" y1="2383.8" x2="500.22" y2="2270.9" stroke="#000" stroke-width="4.6"/>
<line x1="481.72" y1="2270.9" x2="518.72" y2="2270.9" stroke="#000" stroke-width="4.6"/>
<rect x="475.27" y="2383.8" width="49.9" height="285.1" fill="url(#p36)" stroke="#000" stroke-width="4.7"/>
<line x1="556.06" y1="2405.7" x2="556.06" y2="2324.5" stroke="#000" stroke-width="4.6"/>
<line x1="537.56" y1="2324.5" x2="574.56" y2="2324.5" stroke="#000" stroke-width="4.6"/>
<rect x="531.11" y="2405.7" width="49.9" height="263.2" fill="url(#p37)" stroke="#000" stroke-width="4.7"/>
<line x1="611.91" y1="2373.3" x2="611.91" y2="2272.6" stroke="#000" stroke-width="4.6"/>
<line x1="593.41" y1="2272.6" x2="630.41" y2="2272.6" stroke="#000" stroke-width="4.6"/>
<rect x="586.96" y="2373.3" width="49.9" height="295.6" fill="url(#p38)" stroke="#000" stroke-width="4.7"/>
<line x1="723.59" y1="2428.2" x2="723.59" y2="2336" stroke="#000" stroke-width="4.6"/>
<line x1="705.09" y1="2336" x2="742.09" y2="2336" stroke="#000" stroke-width="4.6"/>
<rect x="698.64" y="2428.2" width="49.9" height="240.7" fill="url(#p39)" stroke="#000" stroke-width="4.7"/>
<line x1="779.44" y1="2407.5" x2="779.44" y2="2399.6" stroke="#000" stroke-width="4.6"/>
<line x1="760.94" y1="2399.6" x2="797.94" y2="2399.6" stroke="#000" stroke-width="4.6"/>
<rect x="754.49" y="2407.5" width="49.9" height="261.4" fill="url(#p40)" stroke="#000" stroke-width="4.7"/>
<line x1="835.28" y1="2356.8" x2="835.28" y2="2261.1" stroke="#000" stroke-width="4.6"/>
<line x1="816.78" y1="2261.1" x2="853.78" y2="2261.1" stroke="#000" stroke-width="4.6"/>
<rect x="810.33" y="2356.8" width="49.9" height="312.1" fill="url(#p41)" stroke="#000" stroke-width="4.7"/>
<line x1="946.97" y1="2389.2" x2="946.97" y2="2312.3" stroke="#000" stroke-width="4.6"/>
<line x1="928.47" y1="2312.3" x2="965.47" y2="2312.3" stroke="#000" stroke-width="4.6"/>
<rect x="922.02" y="2389.2" width="49.9" height="279.7" fill="url(#p42)" stroke="#000" stroke-width="4.7"/>
<line x1="1002.81" y1="2386.7" x2="1002.81" y2="2292.1" stroke="#000" stroke-width="4.6"/>
<line x1="984.31" y1="2292.1" x2="1021.31" y2="2292.1" stroke="#000" stroke-width="4.6"/>
<rect x="977.86" y="2386.7" width="49.9" height="282.2" fill="url(#p43)" stroke="#000" stroke-width="4.7"/>
<line x1="1058.66" y1="2334.3" x2="1058.66" y2="2219" stroke="#000" stroke-width="4.6"/>
<line x1="1040.16" y1="2219" x2="1077.16" y2="2219" stroke="#000" stroke-width="4.6"/>
<rect x="1033.71" y="2334.3" width="49.9" height="334.6" fill="url(#p44)" stroke="#000" stroke-width="4.7"/>
<text x="268.79" y="2714.8" font-size="29" font-weight="bold" text-anchor="middle">D0</text>
<text x="327.59" y="2714.8" font-size="29" font-weight="bold" text-anchor="middle">D15</text>
<text x="392.99" y="2714.8" font-size="29" font-weight="bold" text-anchor="middle">D30</text>
<text x="335.29" y="2747.6" font-size="29" font-weight="bold" text-anchor="middle">Group A</text>
<text x="334.69" y="2779.4" font-size="29" font-weight="bold" text-anchor="middle">(n = 25)</text>
<text x="492.16" y="2714.8" font-size="29" font-weight="bold" text-anchor="middle">D0</text>
<text x="550.96" y="2714.8" font-size="29" font-weight="bold" text-anchor="middle">D15</text>
<text x="616.36" y="2714.8" font-size="29" font-weight="bold" text-anchor="middle">D30</text>
<text x="558.66" y="2747.6" font-size="29" font-weight="bold" text-anchor="middle">Group B</text>
<text x="558.06" y="2779.4" font-size="29" font-weight="bold" text-anchor="middle">(n = 25)</text>
<text x="715.54" y="2714.8" font-size="29" font-weight="bold" text-anchor="middle">D0</text>
<text x="774.34" y="2714.8" font-size="29" font-weight="bold" text-anchor="middle">D15</text>
<text x="839.74" y="2714.8" font-size="29" font-weight="bold" text-anchor="middle">D30</text>
<text x="782.04" y="2747.6" font-size="29" font-weight="bold" text-anchor="middle">Group D</text>
<text x="781.44" y="2779.4" font-size="29" font-weight="bold" text-anchor="middle">(n = 27)</text>
<text x="938.91" y="2714.8" font-size="29" font-weight="bold" text-anchor="middle">D0</text>
<text x="997.71" y="2714.8" font-size="29" font-weight="bold" text-anchor="middle">D15</text>
<text x="1063.11" y="2714.8" font-size="29" font-weight="bold" text-anchor="middle">D30</text>
<text x="1005.41" y="2747.6" font-size="29" font-weight="bold" text-anchor="middle">Group C</text>
<text x="1004.81" y="2779.4" font-size="29" font-weight="bold" text-anchor="middle">(n = 23)</text>
<text transform="translate(99.5,2354.8) rotate(-90) scale(1,1.05)" font-size="40.8" font-weight="bold" text-anchor="middle">WBC (10<tspan font-size="21" dy="-21.4">3</tspan><tspan dy="21.4"> cells/µL)</tspan></text>
<text x="281.2" y="2352" font-size="34" font-weight="bold" text-anchor="middle">a</text>
<text x="335.5" y="2309.1" font-size="34" font-weight="bold" text-anchor="middle">b</text>
<text x="369.8" y="2229.46" font-size="26" font-weight="bold" text-anchor="middle">*</text>
<text x="410.3" y="2232.6" font-size="34" font-weight="bold" text-anchor="middle">a,b</text>
<text x="500.8" y="2272.71" font-size="35" font-weight="bold" text-anchor="middle">*</text>
<text x="613" y="2274.21" font-size="35" font-weight="bold" text-anchor="middle">*</text>
<line x1="268.8" y1="2108.3" x2="394.8" y2="2108.3" stroke="#000" stroke-width="4.8"/>
<text x="267.85" y="2098.5" font-weight="bold" text-anchor="start"><tspan font-size="23" dy="-2.7">*</tspan><tspan font-size="30.2" dy="2.7" font-style="italic">p</tspan><tspan font-size="30.2"> &lt; 0.05</tspan></text>
<line x1="491.1" y1="2107" x2="617.9" y2="2107" stroke="#000" stroke-width="4.8"/>
<text x="494.55" y="2095.3" font-weight="bold" text-anchor="start"><tspan font-size="23" dy="-2.7">*</tspan><tspan font-size="30.2" dy="2.7" font-style="italic">p</tspan><tspan font-size="30.2"> &lt; 0.05</tspan></text>
<line x1="559.4" y1="2148.3" x2="617.9" y2="2148.3" stroke="#000" stroke-width="4.8"/>
<text x="529.65" y="2139.2" font-weight="bold" text-anchor="start"><tspan font-size="23" dy="-2.7">*</tspan><tspan font-size="30.2" dy="2.7" font-style="italic">p</tspan><tspan font-size="30.2"> &lt; 0.05</tspan></text>
<text x="725.4" y="2325.7" font-size="34" font-weight="bold" text-anchor="middle">a</text>
<text x="783.1" y="2387.9" font-size="34" font-weight="bold" text-anchor="middle">b</text>
<text x="814.6" y="2247.66" font-size="26" font-weight="bold" text-anchor="middle">*</text>
<text x="854.8" y="2248.9" font-size="34" font-weight="bold" text-anchor="middle">a,b</text>
<line x1="718" y1="2105.6" x2="844.8" y2="2105.6" stroke="#000" stroke-width="4.8"/>
<text x="725.15" y="2094.1" font-weight="bold" text-anchor="start"><tspan font-size="23" dy="-2.7">*</tspan><tspan font-size="29.96" dy="2.7" font-style="italic">p</tspan><tspan font-size="29.96"> &lt; 0.05</tspan></text>
<line x1="781.4" y1="2148.3" x2="839.9" y2="2148.3" stroke="#000" stroke-width="4.8"/>
<text x="750.05" y="2138.5" font-weight="bold" text-anchor="start"><tspan font-size="23" dy="-2.7">*</tspan><tspan font-size="31.81" dy="2.7" font-style="italic">p</tspan><tspan font-size="31.81"> &lt; 0.05</tspan></text>
<line x1="722.2" y1="2188.5" x2="781.9" y2="2188.5" stroke="#000" stroke-width="4.8"/>
<text x="699.25" y="2180" font-weight="bold" text-anchor="start"><tspan font-size="23" dy="-2.7">*</tspan><tspan font-size="30.23" dy="2.7" font-style="italic">p</tspan><tspan font-size="30.23"> &lt; 0.05</tspan></text>
<text x="1002.8" y="2292.21" font-size="35" font-weight="bold" text-anchor="middle">*</text>
<text x="1058.6" y="2220.61" font-size="35" font-weight="bold" text-anchor="middle">*</text>
<line x1="1003.3" y1="2149.5" x2="1061.8" y2="2149.5" stroke="#000" stroke-width="4.8"/>
<text x="973.75" y="2138.5" font-weight="bold" text-anchor="start"><tspan font-size="23" dy="-2.7">*</tspan><tspan font-size="29.99" dy="2.7" font-style="italic">p</tspan><tspan font-size="29.99"> &lt; 0.05</tspan></text>
<rect x="1387" y="2041" width="907.5" height="643.4" fill="none" stroke="#000" stroke-width="2.2"/>
<line x1="1369" y1="2684.4" x2="1387" y2="2684.4" stroke="#000" stroke-width="3.8"/>
<text transform="translate(1349,2696.4) scale(1,1.07)" font-size="41" text-anchor="end" class="tl">0</text>
<line x1="1377.5" y1="2630.78" x2="1387" y2="2630.78" stroke="#000" stroke-width="3.4"/>
<line x1="1369" y1="2577.17" x2="1387" y2="2577.17" stroke="#000" stroke-width="3.8"/>
<text transform="translate(1349,2589.17) scale(1,1.07)" font-size="41" text-anchor="end" class="tl">1</text>
<line x1="1377.5" y1="2523.55" x2="1387" y2="2523.55" stroke="#000" stroke-width="3.4"/>
<line x1="1369" y1="2469.93" x2="1387" y2="2469.93" stroke="#000" stroke-width="3.8"/>
<text transform="translate(1349,2481.93) scale(1,1.07)" font-size="41" text-anchor="end" class="tl">2</text>
<line x1="1377.5" y1="2416.32" x2="1387" y2="2416.32" stroke="#000" stroke-width="3.4"/>
<line x1="1369" y1="2362.7" x2="1387" y2="2362.7" stroke="#000" stroke-width="3.8"/>
<text transform="translate(1349,2374.7) scale(1,1.07)" font-size="41" text-anchor="end" class="tl">3</text>
<line x1="1377.5" y1="2309.08" x2="1387" y2="2309.08" stroke="#000" stroke-width="3.4"/>
<line x1="1369" y1="2255.47" x2="1387" y2="2255.47" stroke="#000" stroke-width="3.8"/>
<text transform="translate(1349,2267.47) scale(1,1.07)" font-size="41" text-anchor="end" class="tl">4</text>
<line x1="1377.5" y1="2201.85" x2="1387" y2="2201.85" stroke="#000" stroke-width="3.4"/>
<line x1="1369" y1="2148.23" x2="1387" y2="2148.23" stroke="#000" stroke-width="3.8"/>
<text transform="translate(1349,2160.23) scale(1,1.07)" font-size="41" text-anchor="end" class="tl">5</text>
<line x1="1377.5" y1="2094.62" x2="1387" y2="2094.62" stroke="#000" stroke-width="3.4"/>
<line x1="1369" y1="2041" x2="1387" y2="2041" stroke="#000" stroke-width="3.8"/>
<text transform="translate(1349,2053) scale(1,1.07)" font-size="41" text-anchor="end" class="tl">6</text>
<line x1="1369" y1="2684.4" x2="2294.5" y2="2684.4" stroke="#000" stroke-width="3"/>
<line x1="1387" y1="2684.4" x2="1387" y2="2702.4" stroke="#000" stroke-width="3.6"/>
<line x1="1443.72" y1="2684.4" x2="1443.72" y2="2702.4" stroke="#000" stroke-width="3.6"/>
<line x1="1500.44" y1="2684.4" x2="1500.44" y2="2702.4" stroke="#000" stroke-width="3.6"/>
<line x1="1557.16" y1="2684.4" x2="1557.16" y2="2702.4" stroke="#000" stroke-width="3.6"/>
<line x1="1613.88" y1="2684.4" x2="1613.88" y2="2702.4" stroke="#000" stroke-width="3.6"/>
<line x1="1670.59" y1="2684.4" x2="1670.59" y2="2702.4" stroke="#000" stroke-width="3.6"/>
<line x1="1727.31" y1="2684.4" x2="1727.31" y2="2702.4" stroke="#000" stroke-width="3.6"/>
<line x1="1784.03" y1="2684.4" x2="1784.03" y2="2702.4" stroke="#000" stroke-width="3.6"/>
<line x1="1840.75" y1="2684.4" x2="1840.75" y2="2702.4" stroke="#000" stroke-width="3.6"/>
<line x1="1897.47" y1="2684.4" x2="1897.47" y2="2702.4" stroke="#000" stroke-width="3.6"/>
<line x1="1954.19" y1="2684.4" x2="1954.19" y2="2702.4" stroke="#000" stroke-width="3.6"/>
<line x1="2010.91" y1="2684.4" x2="2010.91" y2="2702.4" stroke="#000" stroke-width="3.6"/>
<line x1="2067.62" y1="2684.4" x2="2067.62" y2="2702.4" stroke="#000" stroke-width="3.6"/>
<line x1="2124.34" y1="2684.4" x2="2124.34" y2="2702.4" stroke="#000" stroke-width="3.6"/>
<line x1="2181.06" y1="2684.4" x2="2181.06" y2="2702.4" stroke="#000" stroke-width="3.6"/>
<line x1="2237.78" y1="2684.4" x2="2237.78" y2="2702.4" stroke="#000" stroke-width="3.6"/>
<line x1="2294.5" y1="2684.4" x2="2294.5" y2="2702.4" stroke="#000" stroke-width="3.6"/>
<line x1="1443.72" y1="2392.8" x2="1443.72" y2="2320.1" stroke="#000" stroke-width="4.6"/>
<line x1="1425.22" y1="2320.1" x2="1462.22" y2="2320.1" stroke="#000" stroke-width="4.6"/>
<rect x="1418.77" y="2392.8" width="49.9" height="291.6" fill="#fff" stroke="#000" stroke-width="4.7"/>
<line x1="1500.44" y1="2395.3" x2="1500.44" y2="2320.9" stroke="#000" stroke-width="4.6"/>
<line x1="1481.94" y1="2320.9" x2="1518.94" y2="2320.9" stroke="#000" stroke-width="4.6"/>
<rect x="1475.49" y="2395.3" width="49.9" height="289.1" fill="#fff" stroke="#000" stroke-width="4.7"/>
<line x1="1557.16" y1="2386.7" x2="1557.16" y2="2307" stroke="#000" stroke-width="4.6"/>
<line x1="1538.66" y1="2307" x2="1575.66" y2="2307" stroke="#000" stroke-width="4.6"/>
<rect x="1532.21" y="2386.7" width="49.9" height="297.7" fill="#fff" stroke="#000" stroke-width="4.7"/>
<line x1="1670.59" y1="2381.4" x2="1670.59" y2="2304.3" stroke="#000" stroke-width="4.6"/>
<line x1="1652.09" y1="2304.3" x2="1689.09" y2="2304.3" stroke="#000" stroke-width="4.6"/>
<rect x="1645.64" y="2381.4" width="49.9" height="303" fill="url(#p45)" stroke="#000" stroke-width="4.7"/>
<line x1="1727.31" y1="2377" x2="1727.31" y2="2292.8" stroke="#000" stroke-width="4.6"/>
<line x1="1708.81" y1="2292.8" x2="1745.81" y2="2292.8" stroke="#000" stroke-width="4.6"/>
<rect x="1702.36" y="2377" width="49.9" height="307.4" fill="url(#p46)" stroke="#000" stroke-width="4.7"/>
<line x1="1784.03" y1="2386.7" x2="1784.03" y2="2314.3" stroke="#000" stroke-width="4.6"/>
<line x1="1765.53" y1="2314.3" x2="1802.53" y2="2314.3" stroke="#000" stroke-width="4.6"/>
<rect x="1759.08" y="2386.7" width="49.9" height="297.7" fill="url(#p47)" stroke="#000" stroke-width="4.7"/>
<line x1="1897.47" y1="2414.2" x2="1897.47" y2="2344.4" stroke="#000" stroke-width="4.6"/>
<line x1="1878.97" y1="2344.4" x2="1915.97" y2="2344.4" stroke="#000" stroke-width="4.6"/>
<rect x="1872.52" y="2414.2" width="49.9" height="270.2" fill="url(#p48)" stroke="#000" stroke-width="4.7"/>
<line x1="1954.19" y1="2420.5" x2="1954.19" y2="2368.6" stroke="#000" stroke-width="4.6"/>
<line x1="1935.69" y1="2368.6" x2="1972.69" y2="2368.6" stroke="#000" stroke-width="4.6"/>
<rect x="1929.24" y="2420.5" width="50.96" height="263.9" fill="url(#p49)" stroke="#000" stroke-width="4.7"/>
<line x1="2010.91" y1="2396" x2="2010.91" y2="2323.7" stroke="#000" stroke-width="4.6"/>
<line x1="1992.41" y1="2323.7" x2="2029.41" y2="2323.7" stroke="#000" stroke-width="4.6"/>
<rect x="1984.9" y="2396" width="50.96" height="288.4" fill="url(#p50)" stroke="#000" stroke-width="4.7"/>
<line x1="2124.34" y1="2378.8" x2="2124.34" y2="2310.2" stroke="#000" stroke-width="4.6"/>
<line x1="2105.84" y1="2310.2" x2="2142.84" y2="2310.2" stroke="#000" stroke-width="4.6"/>
<rect x="2099.39" y="2378.8" width="49.9" height="305.6" fill="url(#p51)" stroke="#000" stroke-width="4.7"/>
<line x1="2181.06" y1="2381.3" x2="2181.06" y2="2287.5" stroke="#000" stroke-width="4.6"/>
<line x1="2162.56" y1="2287.5" x2="2199.56" y2="2287.5" stroke="#000" stroke-width="4.6"/>
<rect x="2156.11" y="2381.3" width="50.96" height="303.1" fill="url(#p52)" stroke="#000" stroke-width="4.7"/>
<line x1="2237.78" y1="2402.2" x2="2237.78" y2="2348.9" stroke="#000" stroke-width="4.6"/>
<line x1="2219.28" y1="2348.9" x2="2256.28" y2="2348.9" stroke="#000" stroke-width="4.6"/>
<rect x="2211.77" y="2402.2" width="50.96" height="282.2" fill="url(#p53)" stroke="#000" stroke-width="4.7"/>
<text x="1434.44" y="2731.7" font-size="30.5" font-weight="bold" text-anchor="middle">D0</text>
<text x="1494.24" y="2731.7" font-size="30.5" font-weight="bold" text-anchor="middle">D15</text>
<text x="1561.14" y="2731.7" font-size="30.5" font-weight="bold" text-anchor="middle">D30</text>
<text x="1502.24" y="2764.9" font-size="30.5" font-weight="bold" text-anchor="middle">Group A</text>
<text x="1501.04" y="2797.7" font-size="30.5" font-weight="bold" text-anchor="middle">(n = 25)</text>
<text x="1661.31" y="2731.7" font-size="30.5" font-weight="bold" text-anchor="middle">D0</text>
<text x="1721.11" y="2731.7" font-size="30.5" font-weight="bold" text-anchor="middle">D15</text>
<text x="1788.01" y="2731.7" font-size="30.5" font-weight="bold" text-anchor="middle">D30</text>
<text x="1729.11" y="2764.9" font-size="30.5" font-weight="bold" text-anchor="middle">Group B</text>
<text x="1727.91" y="2797.7" font-size="30.5" font-weight="bold" text-anchor="middle">(n = 25)</text>
<text x="1888.19" y="2731.7" font-size="30.5" font-weight="bold" text-anchor="middle">D0</text>
<text x="1947.99" y="2731.7" font-size="30.5" font-weight="bold" text-anchor="middle">D15</text>
<text x="2014.89" y="2731.7" font-size="30.5" font-weight="bold" text-anchor="middle">D30</text>
<text x="1955.99" y="2764.9" font-size="30.5" font-weight="bold" text-anchor="middle">Group D</text>
<text x="1954.79" y="2797.7" font-size="30.5" font-weight="bold" text-anchor="middle">(n = 27)</text>
<text x="2115.06" y="2731.7" font-size="30.5" font-weight="bold" text-anchor="middle">D0</text>
<text x="2174.86" y="2731.7" font-size="30.5" font-weight="bold" text-anchor="middle">D15</text>
<text x="2241.76" y="2731.7" font-size="30.5" font-weight="bold" text-anchor="middle">D30</text>
<text x="2182.86" y="2764.9" font-size="30.5" font-weight="bold" text-anchor="middle">Group C</text>
<text x="2181.66" y="2797.7" font-size="30.5" font-weight="bold" text-anchor="middle">(n = 23)</text>
<text transform="translate(1294,2364.4) rotate(-90) scale(1,1.05)" font-size="42" font-weight="bold" text-anchor="middle">PLT (10<tspan font-size="21" dy="-21.4">5</tspan><tspan dy="21.4"> cells/µL)</tspan></text>
<line x1="1436.1" y1="2101.4" x2="1563.8" y2="2101.4" stroke="#000" stroke-width="4.8"/>
<text x="1439.96" y="2088.8" font-weight="bold" text-anchor="start"><tspan font-size="25" dy="-3.4">*</tspan><tspan font-size="31.54" dy="3.4" font-style="italic">p</tspan><tspan font-size="31.54"> &lt; 0.05</tspan></text>
<line x1="1495.1" y1="2150.7" x2="1556" y2="2150.7" stroke="#000" stroke-width="4.8"/>
<text x="1476.96" y="2140.4" font-weight="bold" text-anchor="start"><tspan font-size="25" dy="-3.4">*</tspan><tspan font-size="31.99" dy="3.4" font-style="italic">p</tspan><tspan font-size="31.99"> &lt; 0.05</tspan></text>
<line x1="1662.1" y1="2100.2" x2="1789.6" y2="2100.2" stroke="#000" stroke-width="4.8"/>
<text x="1660.26" y="2088" font-weight="bold" text-anchor="start"><tspan font-size="25" dy="-3.4">*</tspan><tspan font-size="31.41" dy="3.4" font-style="italic">p</tspan><tspan font-size="31.41"> &lt; 0.05</tspan></text>
<line x1="1730.3" y1="2152.6" x2="1789.6" y2="2152.6" stroke="#000" stroke-width="4.8"/>
<text x="1701.26" y="2140.4" font-weight="bold" text-anchor="start"><tspan font-size="25" dy="-3.4">*</tspan><tspan font-size="31.26" dy="3.4" font-style="italic">p</tspan><tspan font-size="31.26"> &lt; 0.05</tspan></text>
<line x1="1667.7" y1="2198.5" x2="1726.7" y2="2198.5" stroke="#000" stroke-width="4.8"/>
<text x="1634.96" y="2188" font-weight="bold" text-anchor="start"><tspan font-size="25" dy="-3.4">*</tspan><tspan font-size="31.93" dy="3.4" font-style="italic">p</tspan><tspan font-size="31.93"> &lt; 0.05</tspan></text>
<text x="1670.6" y="2305.49" font-size="36" font-weight="bold" text-anchor="middle">*</text>
<text x="1727.9" y="2290.79" font-size="36" font-weight="bold" text-anchor="middle">*</text>
<text x="1785.7" y="2311.99" font-size="36" font-weight="bold" text-anchor="middle">*</text>
<text x="1956.3" y="2358.6" font-size="32" font-weight="bold" text-anchor="middle">d</text>
<text x="2013.2" y="2313.7" font-size="32" font-weight="bold" text-anchor="middle">d</text>
<text x="2125.6" y="2308.39" font-size="36" font-weight="bold" text-anchor="middle">*</text>
<text x="2181.3" y="2287.19" font-size="36" font-weight="bold" text-anchor="middle">*</text>
<line x1="2113.2" y1="2096.2" x2="2241.6" y2="2096.2" stroke="#000" stroke-width="4.8"/>
<text x="2113.86" y="2085" font-weight="bold" text-anchor="start"><tspan font-size="25" dy="-3.4">*</tspan><tspan font-size="31.69" dy="3.4" font-style="italic">p</tspan><tspan font-size="31.69"> &lt; 0.05</tspan></text>
</svg></body></html>
